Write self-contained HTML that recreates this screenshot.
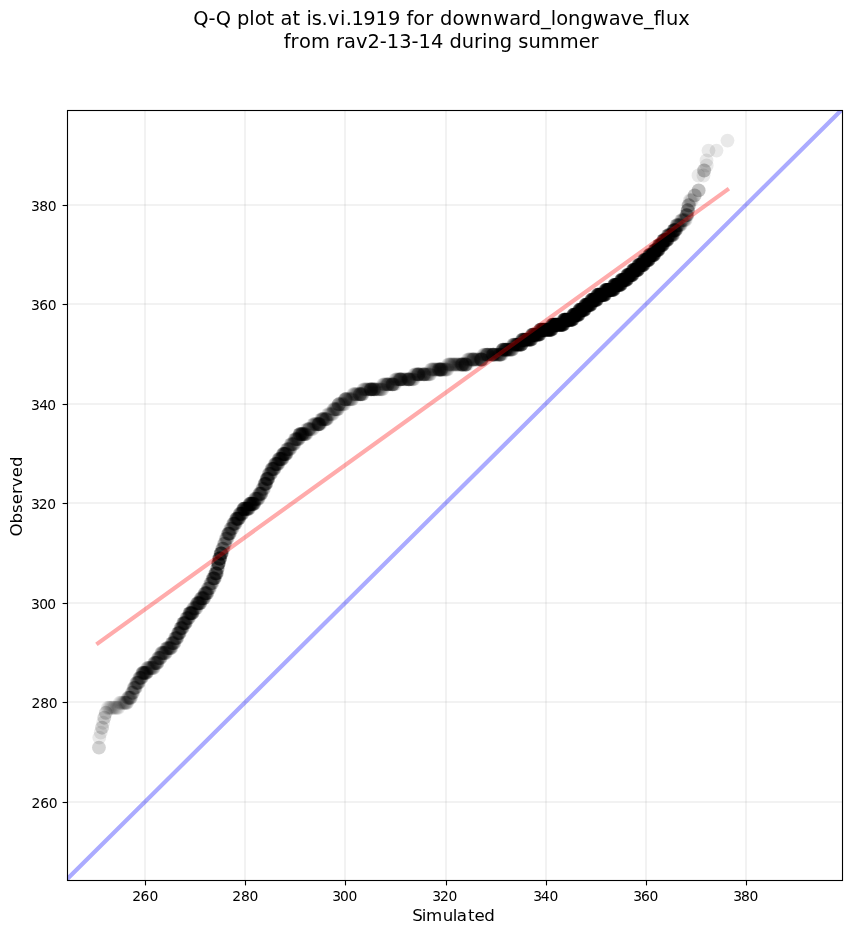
<!DOCTYPE html>
<html lang="en"><head><meta charset="utf-8"><title>Q-Q plot</title>
<style>html,body{margin:0;padding:0;background:#fff;overflow:hidden}svg{display:block}text{font-family:"DejaVu Sans","Liberation Sans",sans-serif;fill:#000}</style></head><body>
<svg width="851" height="934" viewBox="0 0 851 934">
<rect width="851" height="934" fill="#fff"/>
<defs><clipPath id="ax"><rect x="67.5" y="110.5" width="775" height="770"/></clipPath></defs>
<g clip-path="url(#ax)">
<g fill="#808080" fill-opacity="0.1">
<rect x="144.0" y="110.5" width="2" height="770"/>
<rect x="244.0" y="110.5" width="2" height="770"/>
<rect x="344.0" y="110.5" width="2" height="770"/>
<rect x="445.0" y="110.5" width="2" height="770"/>
<rect x="545.0" y="110.5" width="2" height="770"/>
<rect x="645.0" y="110.5" width="2" height="770"/>
<rect x="745.0" y="110.5" width="2" height="770"/>
<rect x="67.5" y="204.0" width="775" height="2"/>
<rect x="67.5" y="303.0" width="775" height="2"/>
<rect x="67.5" y="403.0" width="775" height="2"/>
<rect x="67.5" y="502.0" width="775" height="2"/>
<rect x="67.5" y="602.0" width="775" height="2"/>
<rect x="67.5" y="701.0" width="775" height="2"/>
<rect x="67.5" y="801.0" width="775" height="2"/>
</g>
<g fill="#000" fill-opacity="0.085">
<circle cx="98.9" cy="747.6" r="6.94"/><circle cx="99.0" cy="747.6" r="6.94"/><circle cx="99.3" cy="737.6" r="6.94"/><circle cx="100.7" cy="732.6" r="6.94"/><circle cx="102.0" cy="727.7" r="6.94"/><circle cx="102.1" cy="727.7" r="6.94"/><circle cx="103.2" cy="722.7" r="6.94"/><circle cx="104.2" cy="717.7" r="6.94"/><circle cx="104.4" cy="717.7" r="6.94"/><circle cx="105.7" cy="712.8" r="6.94"/><circle cx="105.9" cy="712.8" r="6.94"/><circle cx="107.8" cy="707.8" r="6.94"/><circle cx="109.2" cy="707.8" r="6.94"/><circle cx="110.5" cy="707.8" r="6.94"/><circle cx="111.8" cy="707.8" r="6.94"/><circle cx="113.1" cy="707.8" r="6.94"/><circle cx="114.4" cy="707.8" r="6.94"/><circle cx="115.8" cy="707.8" r="6.94"/><circle cx="117.1" cy="707.8" r="6.94"/><circle cx="118.4" cy="707.8" r="6.94"/><circle cx="119.7" cy="702.8" r="6.94"/><circle cx="120.9" cy="702.8" r="6.94"/><circle cx="122.2" cy="702.8" r="6.94"/><circle cx="123.3" cy="702.8" r="6.94"/><circle cx="124.2" cy="702.8" r="6.94"/><circle cx="124.9" cy="702.8" r="6.94"/><circle cx="125.5" cy="702.8" r="6.94"/><circle cx="126.1" cy="702.8" r="6.94"/><circle cx="126.7" cy="702.8" r="6.94"/><circle cx="127.2" cy="702.8" r="6.94"/><circle cx="127.7" cy="697.8" r="6.94"/><circle cx="128.2" cy="697.8" r="6.94"/><circle cx="128.6" cy="697.8" r="6.94"/><circle cx="129.1" cy="697.8" r="6.94"/><circle cx="129.5" cy="697.8" r="6.94"/><circle cx="129.9" cy="697.8" r="6.94"/><circle cx="130.3" cy="697.8" r="6.94"/><circle cx="130.7" cy="697.8" r="6.94"/><circle cx="131.1" cy="697.8" r="6.94"/><circle cx="131.6" cy="692.8" r="6.94"/><circle cx="132.0" cy="692.8" r="6.94"/><circle cx="132.4" cy="692.8" r="6.94"/><circle cx="132.8" cy="692.8" r="6.94"/><circle cx="133.2" cy="692.8" r="6.94"/><circle cx="133.6" cy="687.9" r="6.94"/><circle cx="134.0" cy="687.9" r="6.94"/><circle cx="134.3" cy="687.9" r="6.94"/><circle cx="134.7" cy="687.9" r="6.94"/><circle cx="135.1" cy="687.9" r="6.94"/><circle cx="135.4" cy="687.9" r="6.94"/><circle cx="135.8" cy="687.9" r="6.94"/><circle cx="136.1" cy="682.9" r="6.94"/><circle cx="136.5" cy="682.9" r="6.94"/><circle cx="136.8" cy="682.9" r="6.94"/><circle cx="137.1" cy="682.9" r="6.94"/><circle cx="137.5" cy="682.9" r="6.94"/><circle cx="137.8" cy="682.9" r="6.94"/><circle cx="138.1" cy="682.9" r="6.94"/><circle cx="138.5" cy="682.9" r="6.94"/><circle cx="138.8" cy="682.9" r="6.94"/><circle cx="139.1" cy="677.9" r="6.94"/><circle cx="139.5" cy="677.9" r="6.94"/><circle cx="139.8" cy="677.9" r="6.94"/><circle cx="140.2" cy="677.9" r="6.94"/><circle cx="140.5" cy="677.9" r="6.94"/><circle cx="140.8" cy="677.9" r="6.94"/><circle cx="141.2" cy="677.9" r="6.94"/><circle cx="141.5" cy="677.9" r="6.94"/><circle cx="141.8" cy="677.9" r="6.94"/><circle cx="142.2" cy="672.9" r="6.94"/><circle cx="142.4" cy="672.9" r="6.94"/><circle cx="142.7" cy="672.9" r="6.94"/><circle cx="143.0" cy="672.9" r="6.94"/><circle cx="143.2" cy="672.9" r="6.94"/><circle cx="143.5" cy="672.9" r="6.94"/><circle cx="143.7" cy="672.9" r="6.94"/><circle cx="144.0" cy="672.9" r="6.94"/><circle cx="144.3" cy="672.9" r="6.94"/><circle cx="144.5" cy="672.9" r="6.94"/><circle cx="144.8" cy="672.9" r="6.94"/><circle cx="145.0" cy="672.9" r="6.94"/><circle cx="145.3" cy="672.9" r="6.94"/><circle cx="145.6" cy="672.9" r="6.94"/><circle cx="145.8" cy="672.9" r="6.94"/><circle cx="146.1" cy="672.9" r="6.94"/><circle cx="146.3" cy="672.9" r="6.94"/><circle cx="146.6" cy="672.9" r="6.94"/><circle cx="146.8" cy="672.9" r="6.94"/><circle cx="147.2" cy="668.0" r="6.94"/><circle cx="147.7" cy="668.0" r="6.94"/><circle cx="148.2" cy="668.0" r="6.94"/><circle cx="148.7" cy="668.0" r="6.94"/><circle cx="149.2" cy="668.0" r="6.94"/><circle cx="149.7" cy="668.0" r="6.94"/><circle cx="150.2" cy="668.0" r="6.94"/><circle cx="150.7" cy="668.0" r="6.94"/><circle cx="151.2" cy="668.0" r="6.94"/><circle cx="151.7" cy="668.0" r="6.94"/><circle cx="152.2" cy="668.0" r="6.94"/><circle cx="152.7" cy="668.0" r="6.94"/><circle cx="153.2" cy="668.0" r="6.94"/><circle cx="153.7" cy="668.0" r="6.94"/><circle cx="154.1" cy="663.0" r="6.94"/><circle cx="154.4" cy="663.0" r="6.94"/><circle cx="154.7" cy="663.0" r="6.94"/><circle cx="155.1" cy="663.0" r="6.94"/><circle cx="155.4" cy="663.0" r="6.94"/><circle cx="155.7" cy="663.0" r="6.94"/><circle cx="156.0" cy="663.0" r="6.94"/><circle cx="156.4" cy="663.0" r="6.94"/><circle cx="156.7" cy="663.0" r="6.94"/><circle cx="157.0" cy="663.0" r="6.94"/><circle cx="157.3" cy="663.0" r="6.94"/><circle cx="157.6" cy="663.0" r="6.94"/><circle cx="158.0" cy="658.0" r="6.94"/><circle cx="158.3" cy="658.0" r="6.94"/><circle cx="158.7" cy="658.0" r="6.94"/><circle cx="159.0" cy="658.0" r="6.94"/><circle cx="159.4" cy="658.0" r="6.94"/><circle cx="159.8" cy="658.0" r="6.94"/><circle cx="160.1" cy="658.0" r="6.94"/><circle cx="160.5" cy="658.0" r="6.94"/><circle cx="160.8" cy="658.0" r="6.94"/><circle cx="161.2" cy="653.0" r="6.94"/><circle cx="161.6" cy="653.0" r="6.94"/><circle cx="162.0" cy="653.0" r="6.94"/><circle cx="162.4" cy="653.0" r="6.94"/><circle cx="162.8" cy="653.0" r="6.94"/><circle cx="163.2" cy="653.0" r="6.94"/><circle cx="163.6" cy="653.0" r="6.94"/><circle cx="164.0" cy="653.0" r="6.94"/><circle cx="164.4" cy="653.0" r="6.94"/><circle cx="164.8" cy="653.0" r="6.94"/><circle cx="165.2" cy="653.0" r="6.94"/><circle cx="165.6" cy="653.0" r="6.94"/><circle cx="166.0" cy="653.0" r="6.94"/><circle cx="166.4" cy="648.1" r="6.94"/><circle cx="166.8" cy="648.1" r="6.94"/><circle cx="167.1" cy="648.1" r="6.94"/><circle cx="167.5" cy="648.1" r="6.94"/><circle cx="167.8" cy="648.1" r="6.94"/><circle cx="168.2" cy="648.1" r="6.94"/><circle cx="168.5" cy="648.1" r="6.94"/><circle cx="168.9" cy="648.1" r="6.94"/><circle cx="169.2" cy="648.1" r="6.94"/><circle cx="169.6" cy="648.1" r="6.94"/><circle cx="169.9" cy="648.1" r="6.94"/><circle cx="170.3" cy="648.1" r="6.94"/><circle cx="170.6" cy="648.1" r="6.94"/><circle cx="171.0" cy="648.1" r="6.94"/><circle cx="171.3" cy="648.1" r="6.94"/><circle cx="171.7" cy="643.1" r="6.94"/><circle cx="172.0" cy="643.1" r="6.94"/><circle cx="172.3" cy="643.1" r="6.94"/><circle cx="172.6" cy="643.1" r="6.94"/><circle cx="172.9" cy="643.1" r="6.94"/><circle cx="173.2" cy="643.1" r="6.94"/><circle cx="173.5" cy="643.1" r="6.94"/><circle cx="173.9" cy="643.1" r="6.94"/><circle cx="174.2" cy="643.1" r="6.94"/><circle cx="174.5" cy="643.1" r="6.94"/><circle cx="174.8" cy="638.1" r="6.94"/><circle cx="175.1" cy="638.1" r="6.94"/><circle cx="175.4" cy="638.1" r="6.94"/><circle cx="175.7" cy="638.1" r="6.94"/><circle cx="176.0" cy="638.1" r="6.94"/><circle cx="176.3" cy="638.1" r="6.94"/><circle cx="176.5" cy="638.1" r="6.94"/><circle cx="176.8" cy="638.1" r="6.94"/><circle cx="177.1" cy="638.1" r="6.94"/><circle cx="177.4" cy="638.1" r="6.94"/><circle cx="177.7" cy="633.1" r="6.94"/><circle cx="178.0" cy="633.1" r="6.94"/><circle cx="178.2" cy="633.1" r="6.94"/><circle cx="178.5" cy="633.1" r="6.94"/><circle cx="178.7" cy="633.1" r="6.94"/><circle cx="178.9" cy="633.1" r="6.94"/><circle cx="179.2" cy="633.1" r="6.94"/><circle cx="179.4" cy="633.1" r="6.94"/><circle cx="179.7" cy="633.1" r="6.94"/><circle cx="179.9" cy="633.1" r="6.94"/><circle cx="180.2" cy="628.2" r="6.94"/><circle cx="180.5" cy="628.2" r="6.94"/><circle cx="180.8" cy="628.2" r="6.94"/><circle cx="181.0" cy="628.2" r="6.94"/><circle cx="181.3" cy="628.2" r="6.94"/><circle cx="181.6" cy="628.2" r="6.94"/><circle cx="181.9" cy="628.2" r="6.94"/><circle cx="182.1" cy="628.2" r="6.94"/><circle cx="182.4" cy="628.2" r="6.94"/><circle cx="182.7" cy="628.2" r="6.94"/><circle cx="182.9" cy="623.2" r="6.94"/><circle cx="183.2" cy="623.2" r="6.94"/><circle cx="183.4" cy="623.2" r="6.94"/><circle cx="183.6" cy="623.2" r="6.94"/><circle cx="183.8" cy="623.2" r="6.94"/><circle cx="184.1" cy="623.2" r="6.94"/><circle cx="184.3" cy="623.2" r="6.94"/><circle cx="184.5" cy="623.2" r="6.94"/><circle cx="184.7" cy="623.2" r="6.94"/><circle cx="185.0" cy="623.2" r="6.94"/><circle cx="185.2" cy="623.2" r="6.94"/><circle cx="185.4" cy="623.2" r="6.94"/><circle cx="185.6" cy="623.2" r="6.94"/><circle cx="185.9" cy="623.2" r="6.94"/><circle cx="186.2" cy="618.2" r="6.94"/><circle cx="186.5" cy="618.2" r="6.94"/><circle cx="186.9" cy="618.2" r="6.94"/><circle cx="187.2" cy="618.2" r="6.94"/><circle cx="187.6" cy="618.2" r="6.94"/><circle cx="187.9" cy="618.2" r="6.94"/><circle cx="188.3" cy="618.2" r="6.94"/><circle cx="188.6" cy="618.2" r="6.94"/><circle cx="189.0" cy="618.2" r="6.94"/><circle cx="189.2" cy="613.2" r="6.94"/><circle cx="189.4" cy="613.2" r="6.94"/><circle cx="189.6" cy="613.2" r="6.94"/><circle cx="189.8" cy="613.2" r="6.94"/><circle cx="190.0" cy="613.2" r="6.94"/><circle cx="190.2" cy="613.2" r="6.94"/><circle cx="190.4" cy="613.2" r="6.94"/><circle cx="190.6" cy="613.2" r="6.94"/><circle cx="190.8" cy="613.2" r="6.94"/><circle cx="191.0" cy="613.2" r="6.94"/><circle cx="191.2" cy="613.2" r="6.94"/><circle cx="191.4" cy="613.2" r="6.94"/><circle cx="191.6" cy="613.2" r="6.94"/><circle cx="191.8" cy="613.2" r="6.94"/><circle cx="192.0" cy="613.2" r="6.94"/><circle cx="192.2" cy="613.2" r="6.94"/><circle cx="192.4" cy="613.2" r="6.94"/><circle cx="192.6" cy="613.2" r="6.94"/><circle cx="192.7" cy="613.2" r="6.94"/><circle cx="193.1" cy="608.3" r="6.94"/><circle cx="193.5" cy="608.3" r="6.94"/><circle cx="193.9" cy="608.3" r="6.94"/><circle cx="194.3" cy="608.3" r="6.94"/><circle cx="194.8" cy="608.3" r="6.94"/><circle cx="195.2" cy="608.3" r="6.94"/><circle cx="195.6" cy="608.3" r="6.94"/><circle cx="196.1" cy="608.3" r="6.94"/><circle cx="196.5" cy="608.3" r="6.94"/><circle cx="196.8" cy="603.3" r="6.94"/><circle cx="197.1" cy="603.3" r="6.94"/><circle cx="197.3" cy="603.3" r="6.94"/><circle cx="197.5" cy="603.3" r="6.94"/><circle cx="197.8" cy="603.3" r="6.94"/><circle cx="198.0" cy="603.3" r="6.94"/><circle cx="198.3" cy="603.3" r="6.94"/><circle cx="198.5" cy="603.3" r="6.94"/><circle cx="198.7" cy="603.3" r="6.94"/><circle cx="199.0" cy="603.3" r="6.94"/><circle cx="199.2" cy="603.3" r="6.94"/><circle cx="199.5" cy="603.3" r="6.94"/><circle cx="199.7" cy="603.3" r="6.94"/><circle cx="199.9" cy="603.3" r="6.94"/><circle cx="200.2" cy="603.3" r="6.94"/><circle cx="200.4" cy="603.3" r="6.94"/><circle cx="200.7" cy="598.3" r="6.94"/><circle cx="201.0" cy="598.3" r="6.94"/><circle cx="201.3" cy="598.3" r="6.94"/><circle cx="201.6" cy="598.3" r="6.94"/><circle cx="201.9" cy="598.3" r="6.94"/><circle cx="202.2" cy="598.3" r="6.94"/><circle cx="202.5" cy="598.3" r="6.94"/><circle cx="202.8" cy="598.3" r="6.94"/><circle cx="203.1" cy="598.3" r="6.94"/><circle cx="203.4" cy="598.3" r="6.94"/><circle cx="203.7" cy="598.3" r="6.94"/><circle cx="203.9" cy="598.3" r="6.94"/><circle cx="204.2" cy="598.3" r="6.94"/><circle cx="204.5" cy="593.3" r="6.94"/><circle cx="204.8" cy="593.3" r="6.94"/><circle cx="205.0" cy="593.3" r="6.94"/><circle cx="205.2" cy="593.3" r="6.94"/><circle cx="205.5" cy="593.3" r="6.94"/><circle cx="205.7" cy="593.3" r="6.94"/><circle cx="206.0" cy="593.3" r="6.94"/><circle cx="206.2" cy="593.3" r="6.94"/><circle cx="206.4" cy="593.3" r="6.94"/><circle cx="206.7" cy="593.3" r="6.94"/><circle cx="206.9" cy="593.3" r="6.94"/><circle cx="207.2" cy="593.3" r="6.94"/><circle cx="207.4" cy="593.3" r="6.94"/><circle cx="207.7" cy="588.4" r="6.94"/><circle cx="208.1" cy="588.4" r="6.94"/><circle cx="208.4" cy="588.4" r="6.94"/><circle cx="208.8" cy="588.4" r="6.94"/><circle cx="209.1" cy="588.4" r="6.94"/><circle cx="209.5" cy="588.4" r="6.94"/><circle cx="209.9" cy="588.4" r="6.94"/><circle cx="210.2" cy="583.4" r="6.94"/><circle cx="210.6" cy="583.4" r="6.94"/><circle cx="210.9" cy="583.4" r="6.94"/><circle cx="211.3" cy="583.4" r="6.94"/><circle cx="211.6" cy="583.4" r="6.94"/><circle cx="212.0" cy="583.4" r="6.94"/><circle cx="212.4" cy="583.4" r="6.94"/><circle cx="212.6" cy="578.4" r="6.94"/><circle cx="212.9" cy="578.4" r="6.94"/><circle cx="213.1" cy="578.4" r="6.94"/><circle cx="213.3" cy="578.4" r="6.94"/><circle cx="213.5" cy="578.4" r="6.94"/><circle cx="213.7" cy="578.4" r="6.94"/><circle cx="213.9" cy="578.4" r="6.94"/><circle cx="214.1" cy="578.4" r="6.94"/><circle cx="214.3" cy="578.4" r="6.94"/><circle cx="214.5" cy="578.4" r="6.94"/><circle cx="214.7" cy="578.4" r="6.94"/><circle cx="214.9" cy="578.4" r="6.94"/><circle cx="215.1" cy="573.4" r="6.94"/><circle cx="215.3" cy="573.4" r="6.94"/><circle cx="215.5" cy="573.4" r="6.94"/><circle cx="215.7" cy="573.4" r="6.94"/><circle cx="215.9" cy="573.4" r="6.94"/><circle cx="216.0" cy="573.4" r="6.94"/><circle cx="216.2" cy="573.4" r="6.94"/><circle cx="216.4" cy="573.4" r="6.94"/><circle cx="216.6" cy="573.4" r="6.94"/><circle cx="216.8" cy="573.4" r="6.94"/><circle cx="217.0" cy="573.4" r="6.94"/><circle cx="217.1" cy="568.5" r="6.94"/><circle cx="217.3" cy="568.5" r="6.94"/><circle cx="217.5" cy="568.5" r="6.94"/><circle cx="217.7" cy="568.5" r="6.94"/><circle cx="217.9" cy="568.5" r="6.94"/><circle cx="218.0" cy="563.5" r="6.94"/><circle cx="218.1" cy="563.5" r="6.94"/><circle cx="218.2" cy="563.5" r="6.94"/><circle cx="218.3" cy="563.5" r="6.94"/><circle cx="218.4" cy="563.5" r="6.94"/><circle cx="218.5" cy="563.5" r="6.94"/><circle cx="218.6" cy="563.5" r="6.94"/><circle cx="218.7" cy="563.5" r="6.94"/><circle cx="218.8" cy="563.5" r="6.94"/><circle cx="218.9" cy="563.5" r="6.94"/><circle cx="219.0" cy="558.5" r="6.94"/><circle cx="219.2" cy="558.5" r="6.94"/><circle cx="219.3" cy="558.5" r="6.94"/><circle cx="219.4" cy="558.5" r="6.94"/><circle cx="219.6" cy="558.5" r="6.94"/><circle cx="219.7" cy="558.5" r="6.94"/><circle cx="219.8" cy="558.5" r="6.94"/><circle cx="219.9" cy="558.5" r="6.94"/><circle cx="220.1" cy="558.5" r="6.94"/><circle cx="220.2" cy="558.5" r="6.94"/><circle cx="220.3" cy="558.5" r="6.94"/><circle cx="220.5" cy="553.5" r="6.94"/><circle cx="220.6" cy="553.5" r="6.94"/><circle cx="220.8" cy="553.5" r="6.94"/><circle cx="220.9" cy="553.5" r="6.94"/><circle cx="221.0" cy="553.5" r="6.94"/><circle cx="221.2" cy="553.5" r="6.94"/><circle cx="221.3" cy="553.5" r="6.94"/><circle cx="221.5" cy="553.5" r="6.94"/><circle cx="221.6" cy="553.5" r="6.94"/><circle cx="221.7" cy="553.5" r="6.94"/><circle cx="221.9" cy="553.5" r="6.94"/><circle cx="222.1" cy="548.6" r="6.94"/><circle cx="222.4" cy="548.6" r="6.94"/><circle cx="222.7" cy="548.6" r="6.94"/><circle cx="223.0" cy="548.6" r="6.94"/><circle cx="223.3" cy="548.6" r="6.94"/><circle cx="223.6" cy="548.6" r="6.94"/><circle cx="223.9" cy="543.6" r="6.94"/><circle cx="224.3" cy="543.6" r="6.94"/><circle cx="224.6" cy="543.6" r="6.94"/><circle cx="225.0" cy="543.6" r="6.94"/><circle cx="225.3" cy="543.6" r="6.94"/><circle cx="225.7" cy="538.6" r="6.94"/><circle cx="226.1" cy="538.6" r="6.94"/><circle cx="226.5" cy="538.6" r="6.94"/><circle cx="226.8" cy="538.6" r="6.94"/><circle cx="227.2" cy="538.6" r="6.94"/><circle cx="227.6" cy="538.6" r="6.94"/><circle cx="227.9" cy="533.6" r="6.94"/><circle cx="228.1" cy="533.6" r="6.94"/><circle cx="228.3" cy="533.6" r="6.94"/><circle cx="228.5" cy="533.6" r="6.94"/><circle cx="228.7" cy="533.6" r="6.94"/><circle cx="228.9" cy="533.6" r="6.94"/><circle cx="229.1" cy="533.6" r="6.94"/><circle cx="229.4" cy="533.6" r="6.94"/><circle cx="229.6" cy="533.6" r="6.94"/><circle cx="229.8" cy="533.6" r="6.94"/><circle cx="230.0" cy="533.6" r="6.94"/><circle cx="230.3" cy="528.7" r="6.94"/><circle cx="230.7" cy="528.7" r="6.94"/><circle cx="231.1" cy="528.7" r="6.94"/><circle cx="231.5" cy="528.7" r="6.94"/><circle cx="231.9" cy="528.7" r="6.94"/><circle cx="232.3" cy="528.7" r="6.94"/><circle cx="232.7" cy="528.7" r="6.94"/><circle cx="233.0" cy="523.7" r="6.94"/><circle cx="233.3" cy="523.7" r="6.94"/><circle cx="233.6" cy="523.7" r="6.94"/><circle cx="233.8" cy="523.7" r="6.94"/><circle cx="234.1" cy="523.7" r="6.94"/><circle cx="234.4" cy="523.7" r="6.94"/><circle cx="234.7" cy="523.7" r="6.94"/><circle cx="234.9" cy="523.7" r="6.94"/><circle cx="235.2" cy="523.7" r="6.94"/><circle cx="235.5" cy="523.7" r="6.94"/><circle cx="235.8" cy="523.7" r="6.94"/><circle cx="236.0" cy="518.7" r="6.94"/><circle cx="236.2" cy="518.7" r="6.94"/><circle cx="236.4" cy="518.7" r="6.94"/><circle cx="236.6" cy="518.7" r="6.94"/><circle cx="236.8" cy="518.7" r="6.94"/><circle cx="237.0" cy="518.7" r="6.94"/><circle cx="237.2" cy="518.7" r="6.94"/><circle cx="237.4" cy="518.7" r="6.94"/><circle cx="237.6" cy="518.7" r="6.94"/><circle cx="237.8" cy="518.7" r="6.94"/><circle cx="238.0" cy="518.7" r="6.94"/><circle cx="238.2" cy="518.7" r="6.94"/><circle cx="238.4" cy="518.7" r="6.94"/><circle cx="238.6" cy="518.7" r="6.94"/><circle cx="238.8" cy="518.7" r="6.94"/><circle cx="239.0" cy="518.7" r="6.94"/><circle cx="239.1" cy="518.7" r="6.94"/><circle cx="239.4" cy="513.8" r="6.94"/><circle cx="239.6" cy="513.8" r="6.94"/><circle cx="239.9" cy="513.8" r="6.94"/><circle cx="240.1" cy="513.8" r="6.94"/><circle cx="240.4" cy="513.8" r="6.94"/><circle cx="240.7" cy="513.8" r="6.94"/><circle cx="240.9" cy="513.8" r="6.94"/><circle cx="241.2" cy="513.8" r="6.94"/><circle cx="241.4" cy="513.8" r="6.94"/><circle cx="241.7" cy="513.8" r="6.94"/><circle cx="241.9" cy="513.8" r="6.94"/><circle cx="242.2" cy="513.8" r="6.94"/><circle cx="242.4" cy="513.8" r="6.94"/><circle cx="242.7" cy="513.8" r="6.94"/><circle cx="243.0" cy="508.8" r="6.94"/><circle cx="243.3" cy="508.8" r="6.94"/><circle cx="243.6" cy="508.8" r="6.94"/><circle cx="243.9" cy="508.8" r="6.94"/><circle cx="244.2" cy="508.8" r="6.94"/><circle cx="244.5" cy="508.8" r="6.94"/><circle cx="244.8" cy="508.8" r="6.94"/><circle cx="245.1" cy="508.8" r="6.94"/><circle cx="245.4" cy="508.8" r="6.94"/><circle cx="245.8" cy="508.8" r="6.94"/><circle cx="246.1" cy="508.8" r="6.94"/><circle cx="246.4" cy="508.8" r="6.94"/><circle cx="246.7" cy="508.8" r="6.94"/><circle cx="247.0" cy="508.8" r="6.94"/><circle cx="247.3" cy="508.8" r="6.94"/><circle cx="247.6" cy="508.8" r="6.94"/><circle cx="247.9" cy="508.8" r="6.94"/><circle cx="248.2" cy="508.8" r="6.94"/><circle cx="248.5" cy="508.8" r="6.94"/><circle cx="248.8" cy="508.8" r="6.94"/><circle cx="249.1" cy="508.8" r="6.94"/><circle cx="244.3" cy="508.8" r="6.94"/><circle cx="243.9" cy="508.8" r="6.94"/><circle cx="243.4" cy="508.8" r="6.94"/><circle cx="244.1" cy="508.8" r="6.94"/><circle cx="247.2" cy="508.8" r="6.94"/><circle cx="247.9" cy="508.8" r="6.94"/><circle cx="247.0" cy="508.8" r="6.94"/><circle cx="245.4" cy="508.8" r="6.94"/><circle cx="249.4" cy="503.8" r="6.94"/><circle cx="249.6" cy="503.8" r="6.94"/><circle cx="249.8" cy="503.8" r="6.94"/><circle cx="250.0" cy="503.8" r="6.94"/><circle cx="250.2" cy="503.8" r="6.94"/><circle cx="250.4" cy="503.8" r="6.94"/><circle cx="250.5" cy="503.8" r="6.94"/><circle cx="250.7" cy="503.8" r="6.94"/><circle cx="250.9" cy="503.8" r="6.94"/><circle cx="251.1" cy="503.8" r="6.94"/><circle cx="251.3" cy="503.8" r="6.94"/><circle cx="251.5" cy="503.8" r="6.94"/><circle cx="251.7" cy="503.8" r="6.94"/><circle cx="251.9" cy="503.8" r="6.94"/><circle cx="252.1" cy="503.8" r="6.94"/><circle cx="252.3" cy="503.8" r="6.94"/><circle cx="252.5" cy="503.8" r="6.94"/><circle cx="252.7" cy="503.8" r="6.94"/><circle cx="252.9" cy="503.8" r="6.94"/><circle cx="253.0" cy="503.8" r="6.94"/><circle cx="253.2" cy="503.8" r="6.94"/><circle cx="253.4" cy="503.8" r="6.94"/><circle cx="253.6" cy="503.8" r="6.94"/><circle cx="253.8" cy="503.8" r="6.94"/><circle cx="254.0" cy="503.8" r="6.94"/><circle cx="254.2" cy="503.8" r="6.94"/><circle cx="254.4" cy="503.8" r="6.94"/><circle cx="254.7" cy="498.8" r="6.94"/><circle cx="255.0" cy="498.8" r="6.94"/><circle cx="255.4" cy="498.8" r="6.94"/><circle cx="255.8" cy="498.8" r="6.94"/><circle cx="256.1" cy="498.8" r="6.94"/><circle cx="256.5" cy="498.8" r="6.94"/><circle cx="256.9" cy="498.8" r="6.94"/><circle cx="257.2" cy="498.8" r="6.94"/><circle cx="257.6" cy="498.8" r="6.94"/><circle cx="258.0" cy="498.8" r="6.94"/><circle cx="258.3" cy="498.8" r="6.94"/><circle cx="258.7" cy="498.8" r="6.94"/><circle cx="259.0" cy="493.8" r="6.94"/><circle cx="259.2" cy="493.8" r="6.94"/><circle cx="259.5" cy="493.8" r="6.94"/><circle cx="259.7" cy="493.8" r="6.94"/><circle cx="260.0" cy="493.8" r="6.94"/><circle cx="260.2" cy="493.8" r="6.94"/><circle cx="260.4" cy="493.8" r="6.94"/><circle cx="260.7" cy="493.8" r="6.94"/><circle cx="260.9" cy="493.8" r="6.94"/><circle cx="261.2" cy="493.8" r="6.94"/><circle cx="261.4" cy="493.8" r="6.94"/><circle cx="261.6" cy="493.8" r="6.94"/><circle cx="262.0" cy="488.9" r="6.94"/><circle cx="262.4" cy="488.9" r="6.94"/><circle cx="262.8" cy="488.9" r="6.94"/><circle cx="263.2" cy="488.9" r="6.94"/><circle cx="263.6" cy="488.9" r="6.94"/><circle cx="264.0" cy="488.9" r="6.94"/><circle cx="264.3" cy="483.9" r="6.94"/><circle cx="264.5" cy="483.9" r="6.94"/><circle cx="264.7" cy="483.9" r="6.94"/><circle cx="264.9" cy="483.9" r="6.94"/><circle cx="265.0" cy="483.9" r="6.94"/><circle cx="265.2" cy="483.9" r="6.94"/><circle cx="265.4" cy="483.9" r="6.94"/><circle cx="265.6" cy="483.9" r="6.94"/><circle cx="265.8" cy="483.9" r="6.94"/><circle cx="265.9" cy="483.9" r="6.94"/><circle cx="266.1" cy="483.9" r="6.94"/><circle cx="266.3" cy="483.9" r="6.94"/><circle cx="266.5" cy="478.9" r="6.94"/><circle cx="266.6" cy="478.9" r="6.94"/><circle cx="266.8" cy="478.9" r="6.94"/><circle cx="267.0" cy="478.9" r="6.94"/><circle cx="267.1" cy="478.9" r="6.94"/><circle cx="267.3" cy="478.9" r="6.94"/><circle cx="267.5" cy="478.9" r="6.94"/><circle cx="267.7" cy="478.9" r="6.94"/><circle cx="267.8" cy="478.9" r="6.94"/><circle cx="268.0" cy="478.9" r="6.94"/><circle cx="268.2" cy="478.9" r="6.94"/><circle cx="268.3" cy="478.9" r="6.94"/><circle cx="268.6" cy="473.9" r="6.94"/><circle cx="268.9" cy="473.9" r="6.94"/><circle cx="269.2" cy="473.9" r="6.94"/><circle cx="269.5" cy="473.9" r="6.94"/><circle cx="269.9" cy="473.9" r="6.94"/><circle cx="270.2" cy="473.9" r="6.94"/><circle cx="270.5" cy="473.9" r="6.94"/><circle cx="270.8" cy="473.9" r="6.94"/><circle cx="271.1" cy="473.9" r="6.94"/><circle cx="271.4" cy="469.0" r="6.94"/><circle cx="271.7" cy="469.0" r="6.94"/><circle cx="271.9" cy="469.0" r="6.94"/><circle cx="272.2" cy="469.0" r="6.94"/><circle cx="272.4" cy="469.0" r="6.94"/><circle cx="272.7" cy="469.0" r="6.94"/><circle cx="273.0" cy="469.0" r="6.94"/><circle cx="273.2" cy="469.0" r="6.94"/><circle cx="273.5" cy="469.0" r="6.94"/><circle cx="273.7" cy="469.0" r="6.94"/><circle cx="274.0" cy="469.0" r="6.94"/><circle cx="274.2" cy="469.0" r="6.94"/><circle cx="274.5" cy="469.0" r="6.94"/><circle cx="274.8" cy="464.0" r="6.94"/><circle cx="275.0" cy="464.0" r="6.94"/><circle cx="275.3" cy="464.0" r="6.94"/><circle cx="275.6" cy="464.0" r="6.94"/><circle cx="275.8" cy="464.0" r="6.94"/><circle cx="276.1" cy="464.0" r="6.94"/><circle cx="276.4" cy="464.0" r="6.94"/><circle cx="276.6" cy="464.0" r="6.94"/><circle cx="276.9" cy="464.0" r="6.94"/><circle cx="277.2" cy="464.0" r="6.94"/><circle cx="277.5" cy="464.0" r="6.94"/><circle cx="277.7" cy="464.0" r="6.94"/><circle cx="278.0" cy="464.0" r="6.94"/><circle cx="278.3" cy="464.0" r="6.94"/><circle cx="278.6" cy="459.0" r="6.94"/><circle cx="278.8" cy="459.0" r="6.94"/><circle cx="279.1" cy="459.0" r="6.94"/><circle cx="279.3" cy="459.0" r="6.94"/><circle cx="279.6" cy="459.0" r="6.94"/><circle cx="279.9" cy="459.0" r="6.94"/><circle cx="280.1" cy="459.0" r="6.94"/><circle cx="280.4" cy="459.0" r="6.94"/><circle cx="280.7" cy="459.0" r="6.94"/><circle cx="280.9" cy="459.0" r="6.94"/><circle cx="281.2" cy="459.0" r="6.94"/><circle cx="281.5" cy="459.0" r="6.94"/><circle cx="281.7" cy="459.0" r="6.94"/><circle cx="282.0" cy="459.0" r="6.94"/><circle cx="282.3" cy="459.0" r="6.94"/><circle cx="282.5" cy="459.0" r="6.94"/><circle cx="282.8" cy="454.0" r="6.94"/><circle cx="283.0" cy="454.0" r="6.94"/><circle cx="283.2" cy="454.0" r="6.94"/><circle cx="283.4" cy="454.0" r="6.94"/><circle cx="283.6" cy="454.0" r="6.94"/><circle cx="283.9" cy="454.0" r="6.94"/><circle cx="284.1" cy="454.0" r="6.94"/><circle cx="284.3" cy="454.0" r="6.94"/><circle cx="284.5" cy="454.0" r="6.94"/><circle cx="284.7" cy="454.0" r="6.94"/><circle cx="285.0" cy="454.0" r="6.94"/><circle cx="285.2" cy="454.0" r="6.94"/><circle cx="285.4" cy="454.0" r="6.94"/><circle cx="285.6" cy="454.0" r="6.94"/><circle cx="285.8" cy="454.0" r="6.94"/><circle cx="286.1" cy="454.0" r="6.94"/><circle cx="286.3" cy="454.0" r="6.94"/><circle cx="286.5" cy="454.0" r="6.94"/><circle cx="286.8" cy="449.1" r="6.94"/><circle cx="287.2" cy="449.1" r="6.94"/><circle cx="287.6" cy="449.1" r="6.94"/><circle cx="288.0" cy="449.1" r="6.94"/><circle cx="288.3" cy="449.1" r="6.94"/><circle cx="288.7" cy="449.1" r="6.94"/><circle cx="289.1" cy="449.1" r="6.94"/><circle cx="289.5" cy="449.1" r="6.94"/><circle cx="289.9" cy="449.1" r="6.94"/><circle cx="290.3" cy="449.1" r="6.94"/><circle cx="290.7" cy="444.1" r="6.94"/><circle cx="291.1" cy="444.1" r="6.94"/><circle cx="291.5" cy="444.1" r="6.94"/><circle cx="291.9" cy="444.1" r="6.94"/><circle cx="292.4" cy="444.1" r="6.94"/><circle cx="292.8" cy="444.1" r="6.94"/><circle cx="293.2" cy="444.1" r="6.94"/><circle cx="293.6" cy="444.1" r="6.94"/><circle cx="294.0" cy="444.1" r="6.94"/><circle cx="294.4" cy="444.1" r="6.94"/><circle cx="294.8" cy="439.1" r="6.94"/><circle cx="295.2" cy="439.1" r="6.94"/><circle cx="295.5" cy="439.1" r="6.94"/><circle cx="295.9" cy="439.1" r="6.94"/><circle cx="296.2" cy="439.1" r="6.94"/><circle cx="296.5" cy="439.1" r="6.94"/><circle cx="296.9" cy="439.1" r="6.94"/><circle cx="297.2" cy="439.1" r="6.94"/><circle cx="297.6" cy="439.1" r="6.94"/><circle cx="297.9" cy="439.1" r="6.94"/><circle cx="298.3" cy="439.1" r="6.94"/><circle cx="298.6" cy="439.1" r="6.94"/><circle cx="299.0" cy="439.1" r="6.94"/><circle cx="299.3" cy="434.1" r="6.94"/><circle cx="299.7" cy="434.1" r="6.94"/><circle cx="300.1" cy="434.1" r="6.94"/><circle cx="300.4" cy="434.1" r="6.94"/><circle cx="300.8" cy="434.1" r="6.94"/><circle cx="301.1" cy="434.1" r="6.94"/><circle cx="301.5" cy="434.1" r="6.94"/><circle cx="301.9" cy="434.1" r="6.94"/><circle cx="302.2" cy="434.1" r="6.94"/><circle cx="302.6" cy="434.1" r="6.94"/><circle cx="303.0" cy="434.1" r="6.94"/><circle cx="303.4" cy="434.1" r="6.94"/><circle cx="303.7" cy="434.1" r="6.94"/><circle cx="304.1" cy="434.1" r="6.94"/><circle cx="304.5" cy="434.1" r="6.94"/><circle cx="304.9" cy="434.1" r="6.94"/><circle cx="305.2" cy="434.1" r="6.94"/><circle cx="305.6" cy="434.1" r="6.94"/><circle cx="306.0" cy="434.1" r="6.94"/><circle cx="306.4" cy="434.1" r="6.94"/><circle cx="301.7" cy="434.1" r="6.94"/><circle cx="302.3" cy="434.1" r="6.94"/><circle cx="302.4" cy="434.1" r="6.94"/><circle cx="302.2" cy="434.1" r="6.94"/><circle cx="300.2" cy="434.1" r="6.94"/><circle cx="299.8" cy="434.1" r="6.94"/><circle cx="299.6" cy="434.1" r="6.94"/><circle cx="304.7" cy="434.1" r="6.94"/><circle cx="306.9" cy="429.2" r="6.94"/><circle cx="307.6" cy="429.2" r="6.94"/><circle cx="308.4" cy="429.2" r="6.94"/><circle cx="309.1" cy="429.2" r="6.94"/><circle cx="309.8" cy="429.2" r="6.94"/><circle cx="310.6" cy="429.2" r="6.94"/><circle cx="311.3" cy="429.2" r="6.94"/><circle cx="312.1" cy="429.2" r="6.94"/><circle cx="312.9" cy="429.2" r="6.94"/><circle cx="309.1" cy="429.2" r="6.94"/><circle cx="309.2" cy="429.2" r="6.94"/><circle cx="308.6" cy="429.2" r="6.94"/><circle cx="313.5" cy="424.2" r="6.94"/><circle cx="314.0" cy="424.2" r="6.94"/><circle cx="314.5" cy="424.2" r="6.94"/><circle cx="315.0" cy="424.2" r="6.94"/><circle cx="315.5" cy="424.2" r="6.94"/><circle cx="316.0" cy="424.2" r="6.94"/><circle cx="316.5" cy="424.2" r="6.94"/><circle cx="317.0" cy="424.2" r="6.94"/><circle cx="317.5" cy="424.2" r="6.94"/><circle cx="318.0" cy="424.2" r="6.94"/><circle cx="318.5" cy="424.2" r="6.94"/><circle cx="319.0" cy="424.2" r="6.94"/><circle cx="319.5" cy="424.2" r="6.94"/><circle cx="320.0" cy="424.2" r="6.94"/><circle cx="320.6" cy="424.2" r="6.94"/><circle cx="318.5" cy="424.2" r="6.94"/><circle cx="318.4" cy="424.2" r="6.94"/><circle cx="319.2" cy="424.2" r="6.94"/><circle cx="318.6" cy="424.2" r="6.94"/><circle cx="319.2" cy="424.2" r="6.94"/><circle cx="318.9" cy="424.2" r="6.94"/><circle cx="321.1" cy="419.2" r="6.94"/><circle cx="321.6" cy="419.2" r="6.94"/><circle cx="322.2" cy="419.2" r="6.94"/><circle cx="322.7" cy="419.2" r="6.94"/><circle cx="323.3" cy="419.2" r="6.94"/><circle cx="323.9" cy="419.2" r="6.94"/><circle cx="324.4" cy="419.2" r="6.94"/><circle cx="325.0" cy="419.2" r="6.94"/><circle cx="325.6" cy="419.2" r="6.94"/><circle cx="326.1" cy="419.2" r="6.94"/><circle cx="326.7" cy="419.2" r="6.94"/><circle cx="327.3" cy="419.2" r="6.94"/><circle cx="325.4" cy="419.2" r="6.94"/><circle cx="325.7" cy="419.2" r="6.94"/><circle cx="326.4" cy="419.2" r="6.94"/><circle cx="323.0" cy="419.2" r="6.94"/><circle cx="322.6" cy="419.2" r="6.94"/><circle cx="328.0" cy="414.2" r="6.94"/><circle cx="328.8" cy="414.2" r="6.94"/><circle cx="329.6" cy="414.2" r="6.94"/><circle cx="330.4" cy="414.2" r="6.94"/><circle cx="331.2" cy="414.2" r="6.94"/><circle cx="332.0" cy="414.2" r="6.94"/><circle cx="332.8" cy="414.2" r="6.94"/><circle cx="333.5" cy="409.3" r="6.94"/><circle cx="333.9" cy="409.3" r="6.94"/><circle cx="334.4" cy="409.3" r="6.94"/><circle cx="334.8" cy="409.3" r="6.94"/><circle cx="335.3" cy="409.3" r="6.94"/><circle cx="335.7" cy="409.3" r="6.94"/><circle cx="336.2" cy="409.3" r="6.94"/><circle cx="336.6" cy="409.3" r="6.94"/><circle cx="337.1" cy="409.3" r="6.94"/><circle cx="337.5" cy="409.3" r="6.94"/><circle cx="338.0" cy="409.3" r="6.94"/><circle cx="338.6" cy="404.3" r="6.94"/><circle cx="339.4" cy="404.3" r="6.94"/><circle cx="340.2" cy="404.3" r="6.94"/><circle cx="341.0" cy="404.3" r="6.94"/><circle cx="341.8" cy="404.3" r="6.94"/><circle cx="342.6" cy="404.3" r="6.94"/><circle cx="343.4" cy="404.3" r="6.94"/><circle cx="344.3" cy="404.3" r="6.94"/><circle cx="338.8" cy="404.3" r="6.94"/><circle cx="338.5" cy="404.3" r="6.94"/><circle cx="338.9" cy="404.3" r="6.94"/><circle cx="345.0" cy="399.3" r="6.94"/><circle cx="345.7" cy="399.3" r="6.94"/><circle cx="346.4" cy="399.3" r="6.94"/><circle cx="347.0" cy="399.3" r="6.94"/><circle cx="347.7" cy="399.3" r="6.94"/><circle cx="348.4" cy="399.3" r="6.94"/><circle cx="349.1" cy="399.3" r="6.94"/><circle cx="349.7" cy="399.3" r="6.94"/><circle cx="350.4" cy="399.3" r="6.94"/><circle cx="351.1" cy="399.3" r="6.94"/><circle cx="351.8" cy="399.3" r="6.94"/><circle cx="352.4" cy="399.3" r="6.94"/><circle cx="345.7" cy="399.3" r="6.94"/><circle cx="345.4" cy="399.3" r="6.94"/><circle cx="345.8" cy="399.3" r="6.94"/><circle cx="344.8" cy="399.3" r="6.94"/><circle cx="353.1" cy="394.3" r="6.94"/><circle cx="353.8" cy="394.3" r="6.94"/><circle cx="354.5" cy="394.3" r="6.94"/><circle cx="355.2" cy="394.3" r="6.94"/><circle cx="355.9" cy="394.3" r="6.94"/><circle cx="356.6" cy="394.3" r="6.94"/><circle cx="357.3" cy="394.3" r="6.94"/><circle cx="358.0" cy="394.3" r="6.94"/><circle cx="358.7" cy="394.3" r="6.94"/><circle cx="359.4" cy="394.3" r="6.94"/><circle cx="360.1" cy="394.3" r="6.94"/><circle cx="360.8" cy="394.3" r="6.94"/><circle cx="361.5" cy="394.3" r="6.94"/><circle cx="362.2" cy="394.3" r="6.94"/><circle cx="362.8" cy="394.3" r="6.94"/><circle cx="359.9" cy="394.3" r="6.94"/><circle cx="360.2" cy="394.3" r="6.94"/><circle cx="359.9" cy="394.3" r="6.94"/><circle cx="360.3" cy="394.3" r="6.94"/><circle cx="362.2" cy="394.3" r="6.94"/><circle cx="361.5" cy="394.3" r="6.94"/><circle cx="363.5" cy="389.4" r="6.94"/><circle cx="364.2" cy="389.4" r="6.94"/><circle cx="365.0" cy="389.4" r="6.94"/><circle cx="365.7" cy="389.4" r="6.94"/><circle cx="366.4" cy="389.4" r="6.94"/><circle cx="367.1" cy="389.4" r="6.94"/><circle cx="367.8" cy="389.4" r="6.94"/><circle cx="368.5" cy="389.4" r="6.94"/><circle cx="369.2" cy="389.4" r="6.94"/><circle cx="369.9" cy="389.4" r="6.94"/><circle cx="370.6" cy="389.4" r="6.94"/><circle cx="371.3" cy="389.4" r="6.94"/><circle cx="372.0" cy="389.4" r="6.94"/><circle cx="372.7" cy="389.4" r="6.94"/><circle cx="373.4" cy="389.4" r="6.94"/><circle cx="374.1" cy="389.4" r="6.94"/><circle cx="374.8" cy="389.4" r="6.94"/><circle cx="375.5" cy="389.4" r="6.94"/><circle cx="376.2" cy="389.4" r="6.94"/><circle cx="376.9" cy="389.4" r="6.94"/><circle cx="377.6" cy="389.4" r="6.94"/><circle cx="378.3" cy="389.4" r="6.94"/><circle cx="379.0" cy="389.4" r="6.94"/><circle cx="379.7" cy="389.4" r="6.94"/><circle cx="380.4" cy="389.4" r="6.94"/><circle cx="381.1" cy="389.4" r="6.94"/><circle cx="381.9" cy="389.4" r="6.94"/><circle cx="382.6" cy="389.4" r="6.94"/><circle cx="370.7" cy="389.4" r="6.94"/><circle cx="371.2" cy="389.4" r="6.94"/><circle cx="370.7" cy="389.4" r="6.94"/><circle cx="371.0" cy="389.4" r="6.94"/><circle cx="374.4" cy="389.4" r="6.94"/><circle cx="373.5" cy="389.4" r="6.94"/><circle cx="373.7" cy="389.4" r="6.94"/><circle cx="374.1" cy="389.4" r="6.94"/><circle cx="371.4" cy="389.4" r="6.94"/><circle cx="372.0" cy="389.4" r="6.94"/><circle cx="371.3" cy="389.4" r="6.94"/><circle cx="383.2" cy="384.4" r="6.94"/><circle cx="383.9" cy="384.4" r="6.94"/><circle cx="384.6" cy="384.4" r="6.94"/><circle cx="385.3" cy="384.4" r="6.94"/><circle cx="386.0" cy="384.4" r="6.94"/><circle cx="386.7" cy="384.4" r="6.94"/><circle cx="387.3" cy="384.4" r="6.94"/><circle cx="388.0" cy="384.4" r="6.94"/><circle cx="388.7" cy="384.4" r="6.94"/><circle cx="389.4" cy="384.4" r="6.94"/><circle cx="390.1" cy="384.4" r="6.94"/><circle cx="390.8" cy="384.4" r="6.94"/><circle cx="391.4" cy="384.4" r="6.94"/><circle cx="392.1" cy="384.4" r="6.94"/><circle cx="392.8" cy="384.4" r="6.94"/><circle cx="393.5" cy="384.4" r="6.94"/><circle cx="394.2" cy="384.4" r="6.94"/><circle cx="394.9" cy="384.4" r="6.94"/><circle cx="392.3" cy="384.4" r="6.94"/><circle cx="392.9" cy="384.4" r="6.94"/><circle cx="392.7" cy="384.4" r="6.94"/><circle cx="392.5" cy="384.4" r="6.94"/><circle cx="387.1" cy="384.4" r="6.94"/><circle cx="388.0" cy="384.4" r="6.94"/><circle cx="388.0" cy="384.4" r="6.94"/><circle cx="395.5" cy="379.4" r="6.94"/><circle cx="396.2" cy="379.4" r="6.94"/><circle cx="396.9" cy="379.4" r="6.94"/><circle cx="397.6" cy="379.4" r="6.94"/><circle cx="398.3" cy="379.4" r="6.94"/><circle cx="399.0" cy="379.4" r="6.94"/><circle cx="399.7" cy="379.4" r="6.94"/><circle cx="400.4" cy="379.4" r="6.94"/><circle cx="401.1" cy="379.4" r="6.94"/><circle cx="401.8" cy="379.4" r="6.94"/><circle cx="402.5" cy="379.4" r="6.94"/><circle cx="403.2" cy="379.4" r="6.94"/><circle cx="404.0" cy="379.4" r="6.94"/><circle cx="404.7" cy="379.4" r="6.94"/><circle cx="405.4" cy="379.4" r="6.94"/><circle cx="406.1" cy="379.4" r="6.94"/><circle cx="406.8" cy="379.4" r="6.94"/><circle cx="407.5" cy="379.4" r="6.94"/><circle cx="408.2" cy="379.4" r="6.94"/><circle cx="408.9" cy="379.4" r="6.94"/><circle cx="409.6" cy="379.4" r="6.94"/><circle cx="410.3" cy="379.4" r="6.94"/><circle cx="411.0" cy="379.4" r="6.94"/><circle cx="411.7" cy="379.4" r="6.94"/><circle cx="412.4" cy="379.4" r="6.94"/><circle cx="413.1" cy="379.4" r="6.94"/><circle cx="413.8" cy="379.4" r="6.94"/><circle cx="400.2" cy="379.4" r="6.94"/><circle cx="400.1" cy="379.4" r="6.94"/><circle cx="399.4" cy="379.4" r="6.94"/><circle cx="401.0" cy="379.4" r="6.94"/><circle cx="400.9" cy="379.4" r="6.94"/><circle cx="400.6" cy="379.4" r="6.94"/><circle cx="408.4" cy="379.4" r="6.94"/><circle cx="408.9" cy="379.4" r="6.94"/><circle cx="409.4" cy="379.4" r="6.94"/><circle cx="409.2" cy="379.4" r="6.94"/><circle cx="408.5" cy="379.4" r="6.94"/><circle cx="414.5" cy="374.4" r="6.94"/><circle cx="415.1" cy="374.4" r="6.94"/><circle cx="415.8" cy="374.4" r="6.94"/><circle cx="416.5" cy="374.4" r="6.94"/><circle cx="417.2" cy="374.4" r="6.94"/><circle cx="417.9" cy="374.4" r="6.94"/><circle cx="418.6" cy="374.4" r="6.94"/><circle cx="419.3" cy="374.4" r="6.94"/><circle cx="419.9" cy="374.4" r="6.94"/><circle cx="420.6" cy="374.4" r="6.94"/><circle cx="421.3" cy="374.4" r="6.94"/><circle cx="422.0" cy="374.4" r="6.94"/><circle cx="422.7" cy="374.4" r="6.94"/><circle cx="423.4" cy="374.4" r="6.94"/><circle cx="424.1" cy="374.4" r="6.94"/><circle cx="424.8" cy="374.4" r="6.94"/><circle cx="425.4" cy="374.4" r="6.94"/><circle cx="426.1" cy="374.4" r="6.94"/><circle cx="426.8" cy="374.4" r="6.94"/><circle cx="427.5" cy="374.4" r="6.94"/><circle cx="428.2" cy="374.4" r="6.94"/><circle cx="428.9" cy="374.4" r="6.94"/><circle cx="429.6" cy="374.4" r="6.94"/><circle cx="430.2" cy="374.4" r="6.94"/><circle cx="418.5" cy="374.4" r="6.94"/><circle cx="418.4" cy="374.4" r="6.94"/><circle cx="418.3" cy="374.4" r="6.94"/><circle cx="418.1" cy="374.4" r="6.94"/><circle cx="417.4" cy="374.4" r="6.94"/><circle cx="424.0" cy="374.4" r="6.94"/><circle cx="423.7" cy="374.4" r="6.94"/><circle cx="424.5" cy="374.4" r="6.94"/><circle cx="424.0" cy="374.4" r="6.94"/><circle cx="431.0" cy="369.5" r="6.94"/><circle cx="431.7" cy="369.5" r="6.94"/><circle cx="432.4" cy="369.5" r="6.94"/><circle cx="433.1" cy="369.5" r="6.94"/><circle cx="433.8" cy="369.5" r="6.94"/><circle cx="434.5" cy="369.5" r="6.94"/><circle cx="435.3" cy="369.5" r="6.94"/><circle cx="436.0" cy="369.5" r="6.94"/><circle cx="436.7" cy="369.5" r="6.94"/><circle cx="437.4" cy="369.5" r="6.94"/><circle cx="438.1" cy="369.5" r="6.94"/><circle cx="438.8" cy="369.5" r="6.94"/><circle cx="439.6" cy="369.5" r="6.94"/><circle cx="440.3" cy="369.5" r="6.94"/><circle cx="441.0" cy="369.5" r="6.94"/><circle cx="441.7" cy="369.5" r="6.94"/><circle cx="442.4" cy="369.5" r="6.94"/><circle cx="443.1" cy="369.5" r="6.94"/><circle cx="443.9" cy="369.5" r="6.94"/><circle cx="444.6" cy="369.5" r="6.94"/><circle cx="445.3" cy="369.5" r="6.94"/><circle cx="446.0" cy="369.5" r="6.94"/><circle cx="446.7" cy="369.5" r="6.94"/><circle cx="447.5" cy="369.5" r="6.94"/><circle cx="439.0" cy="369.5" r="6.94"/><circle cx="439.8" cy="369.5" r="6.94"/><circle cx="439.3" cy="369.5" r="6.94"/><circle cx="438.9" cy="369.5" r="6.94"/><circle cx="439.7" cy="369.5" r="6.94"/><circle cx="440.9" cy="369.5" r="6.94"/><circle cx="441.5" cy="369.5" r="6.94"/><circle cx="440.7" cy="369.5" r="6.94"/><circle cx="440.9" cy="369.5" r="6.94"/><circle cx="441.6" cy="369.5" r="6.94"/><circle cx="448.2" cy="364.5" r="6.94"/><circle cx="448.9" cy="364.5" r="6.94"/><circle cx="449.6" cy="364.5" r="6.94"/><circle cx="450.3" cy="364.5" r="6.94"/><circle cx="451.0" cy="364.5" r="6.94"/><circle cx="451.7" cy="364.5" r="6.94"/><circle cx="452.4" cy="364.5" r="6.94"/><circle cx="453.1" cy="364.5" r="6.94"/><circle cx="453.8" cy="364.5" r="6.94"/><circle cx="454.5" cy="364.5" r="6.94"/><circle cx="455.2" cy="364.5" r="6.94"/><circle cx="455.9" cy="364.5" r="6.94"/><circle cx="456.6" cy="364.5" r="6.94"/><circle cx="457.3" cy="364.5" r="6.94"/><circle cx="458.1" cy="364.5" r="6.94"/><circle cx="458.8" cy="364.5" r="6.94"/><circle cx="459.5" cy="364.5" r="6.94"/><circle cx="460.2" cy="364.5" r="6.94"/><circle cx="460.9" cy="364.5" r="6.94"/><circle cx="461.6" cy="364.5" r="6.94"/><circle cx="462.3" cy="364.5" r="6.94"/><circle cx="463.0" cy="364.5" r="6.94"/><circle cx="463.7" cy="364.5" r="6.94"/><circle cx="464.4" cy="364.5" r="6.94"/><circle cx="465.1" cy="364.5" r="6.94"/><circle cx="465.8" cy="364.5" r="6.94"/><circle cx="466.5" cy="364.5" r="6.94"/><circle cx="467.2" cy="364.5" r="6.94"/><circle cx="465.5" cy="364.5" r="6.94"/><circle cx="465.8" cy="364.5" r="6.94"/><circle cx="465.5" cy="364.5" r="6.94"/><circle cx="465.2" cy="364.5" r="6.94"/><circle cx="465.6" cy="364.5" r="6.94"/><circle cx="463.0" cy="364.5" r="6.94"/><circle cx="463.1" cy="364.5" r="6.94"/><circle cx="462.0" cy="364.5" r="6.94"/><circle cx="462.1" cy="364.5" r="6.94"/><circle cx="461.6" cy="364.5" r="6.94"/><circle cx="462.3" cy="364.5" r="6.94"/><circle cx="467.9" cy="359.5" r="6.94"/><circle cx="468.7" cy="359.5" r="6.94"/><circle cx="469.4" cy="359.5" r="6.94"/><circle cx="470.1" cy="359.5" r="6.94"/><circle cx="470.8" cy="359.5" r="6.94"/><circle cx="471.5" cy="359.5" r="6.94"/><circle cx="472.2" cy="359.5" r="6.94"/><circle cx="472.9" cy="359.5" r="6.94"/><circle cx="473.6" cy="359.5" r="6.94"/><circle cx="474.3" cy="359.5" r="6.94"/><circle cx="475.0" cy="359.5" r="6.94"/><circle cx="475.8" cy="359.5" r="6.94"/><circle cx="476.5" cy="359.5" r="6.94"/><circle cx="477.2" cy="359.5" r="6.94"/><circle cx="477.9" cy="359.5" r="6.94"/><circle cx="478.6" cy="359.5" r="6.94"/><circle cx="479.3" cy="359.5" r="6.94"/><circle cx="480.0" cy="359.5" r="6.94"/><circle cx="480.7" cy="359.5" r="6.94"/><circle cx="481.4" cy="359.5" r="6.94"/><circle cx="482.1" cy="359.5" r="6.94"/><circle cx="482.9" cy="359.5" r="6.94"/><circle cx="481.4" cy="359.5" r="6.94"/><circle cx="481.1" cy="359.5" r="6.94"/><circle cx="481.2" cy="359.5" r="6.94"/><circle cx="481.4" cy="359.5" r="6.94"/><circle cx="481.3" cy="359.5" r="6.94"/><circle cx="481.8" cy="359.5" r="6.94"/><circle cx="473.7" cy="359.5" r="6.94"/><circle cx="473.0" cy="359.5" r="6.94"/><circle cx="473.4" cy="359.5" r="6.94"/><circle cx="483.6" cy="354.6" r="6.94"/><circle cx="484.3" cy="354.6" r="6.94"/><circle cx="485.0" cy="354.6" r="6.94"/><circle cx="485.7" cy="354.6" r="6.94"/><circle cx="486.4" cy="354.6" r="6.94"/><circle cx="487.0" cy="354.6" r="6.94"/><circle cx="487.7" cy="354.6" r="6.94"/><circle cx="488.4" cy="354.6" r="6.94"/><circle cx="489.0" cy="354.6" r="6.94"/><circle cx="489.7" cy="354.6" r="6.94"/><circle cx="490.3" cy="354.6" r="6.94"/><circle cx="490.9" cy="354.6" r="6.94"/><circle cx="491.5" cy="354.6" r="6.94"/><circle cx="492.1" cy="354.6" r="6.94"/><circle cx="492.7" cy="354.6" r="6.94"/><circle cx="493.2" cy="354.6" r="6.94"/><circle cx="493.8" cy="354.6" r="6.94"/><circle cx="494.3" cy="354.6" r="6.94"/><circle cx="494.9" cy="354.6" r="6.94"/><circle cx="495.4" cy="354.6" r="6.94"/><circle cx="496.0" cy="354.6" r="6.94"/><circle cx="496.5" cy="354.6" r="6.94"/><circle cx="497.0" cy="354.6" r="6.94"/><circle cx="497.5" cy="354.6" r="6.94"/><circle cx="498.0" cy="354.6" r="6.94"/><circle cx="498.5" cy="354.6" r="6.94"/><circle cx="499.0" cy="354.6" r="6.94"/><circle cx="499.5" cy="354.6" r="6.94"/><circle cx="500.0" cy="354.6" r="6.94"/><circle cx="500.5" cy="354.6" r="6.94"/><circle cx="500.9" cy="354.6" r="6.94"/><circle cx="501.4" cy="354.6" r="6.94"/><circle cx="501.9" cy="354.6" r="6.94"/><circle cx="487.2" cy="354.6" r="6.94"/><circle cx="486.6" cy="354.6" r="6.94"/><circle cx="487.7" cy="354.6" r="6.94"/><circle cx="487.6" cy="354.6" r="6.94"/><circle cx="492.9" cy="354.6" r="6.94"/><circle cx="493.3" cy="354.6" r="6.94"/><circle cx="493.8" cy="354.6" r="6.94"/><circle cx="493.4" cy="354.6" r="6.94"/><circle cx="493.1" cy="354.6" r="6.94"/><circle cx="493.2" cy="354.6" r="6.94"/><circle cx="500.0" cy="354.6" r="6.94"/><circle cx="500.1" cy="354.6" r="6.94"/><circle cx="499.6" cy="354.6" r="6.94"/><circle cx="502.3" cy="349.6" r="6.94"/><circle cx="502.8" cy="349.6" r="6.94"/><circle cx="503.2" cy="349.6" r="6.94"/><circle cx="503.7" cy="349.6" r="6.94"/><circle cx="504.1" cy="349.6" r="6.94"/><circle cx="504.5" cy="349.6" r="6.94"/><circle cx="505.0" cy="349.6" r="6.94"/><circle cx="505.4" cy="349.6" r="6.94"/><circle cx="505.8" cy="349.6" r="6.94"/><circle cx="506.2" cy="349.6" r="6.94"/><circle cx="506.6" cy="349.6" r="6.94"/><circle cx="507.0" cy="349.6" r="6.94"/><circle cx="507.4" cy="349.6" r="6.94"/><circle cx="507.8" cy="349.6" r="6.94"/><circle cx="508.2" cy="349.6" r="6.94"/><circle cx="508.6" cy="349.6" r="6.94"/><circle cx="509.0" cy="349.6" r="6.94"/><circle cx="509.4" cy="349.6" r="6.94"/><circle cx="509.7" cy="349.6" r="6.94"/><circle cx="510.1" cy="349.6" r="6.94"/><circle cx="510.5" cy="349.6" r="6.94"/><circle cx="510.8" cy="349.6" r="6.94"/><circle cx="511.2" cy="349.6" r="6.94"/><circle cx="511.6" cy="349.6" r="6.94"/><circle cx="511.9" cy="349.6" r="6.94"/><circle cx="512.3" cy="349.6" r="6.94"/><circle cx="512.6" cy="349.6" r="6.94"/><circle cx="506.4" cy="349.6" r="6.94"/><circle cx="505.9" cy="349.6" r="6.94"/><circle cx="506.9" cy="349.6" r="6.94"/><circle cx="503.0" cy="349.6" r="6.94"/><circle cx="502.8" cy="349.6" r="6.94"/><circle cx="503.2" cy="349.6" r="6.94"/><circle cx="505.6" cy="349.6" r="6.94"/><circle cx="505.3" cy="349.6" r="6.94"/><circle cx="504.8" cy="349.6" r="6.94"/><circle cx="505.3" cy="349.6" r="6.94"/><circle cx="503.2" cy="349.6" r="6.94"/><circle cx="513.0" cy="344.6" r="6.94"/><circle cx="513.3" cy="344.6" r="6.94"/><circle cx="513.6" cy="344.6" r="6.94"/><circle cx="514.0" cy="344.6" r="6.94"/><circle cx="514.3" cy="344.6" r="6.94"/><circle cx="514.6" cy="344.6" r="6.94"/><circle cx="514.9" cy="344.6" r="6.94"/><circle cx="515.2" cy="344.6" r="6.94"/><circle cx="515.5" cy="344.6" r="6.94"/><circle cx="515.9" cy="344.6" r="6.94"/><circle cx="516.2" cy="344.6" r="6.94"/><circle cx="516.5" cy="344.6" r="6.94"/><circle cx="516.8" cy="344.6" r="6.94"/><circle cx="517.1" cy="344.6" r="6.94"/><circle cx="517.4" cy="344.6" r="6.94"/><circle cx="517.7" cy="344.6" r="6.94"/><circle cx="518.0" cy="344.6" r="6.94"/><circle cx="518.3" cy="344.6" r="6.94"/><circle cx="518.6" cy="344.6" r="6.94"/><circle cx="518.9" cy="344.6" r="6.94"/><circle cx="519.1" cy="344.6" r="6.94"/><circle cx="519.4" cy="344.6" r="6.94"/><circle cx="519.7" cy="344.6" r="6.94"/><circle cx="520.0" cy="344.6" r="6.94"/><circle cx="520.3" cy="344.6" r="6.94"/><circle cx="520.6" cy="344.6" r="6.94"/><circle cx="520.8" cy="344.6" r="6.94"/><circle cx="521.1" cy="344.6" r="6.94"/><circle cx="521.4" cy="344.6" r="6.94"/><circle cx="521.7" cy="344.6" r="6.94"/><circle cx="516.8" cy="344.6" r="6.94"/><circle cx="517.2" cy="344.6" r="6.94"/><circle cx="517.1" cy="344.6" r="6.94"/><circle cx="521.3" cy="344.6" r="6.94"/><circle cx="521.6" cy="344.6" r="6.94"/><circle cx="521.3" cy="344.6" r="6.94"/><circle cx="521.3" cy="344.6" r="6.94"/><circle cx="520.9" cy="344.6" r="6.94"/><circle cx="518.6" cy="344.6" r="6.94"/><circle cx="518.5" cy="344.6" r="6.94"/><circle cx="519.4" cy="344.6" r="6.94"/><circle cx="521.9" cy="339.6" r="6.94"/><circle cx="522.1" cy="339.6" r="6.94"/><circle cx="522.3" cy="339.6" r="6.94"/><circle cx="522.5" cy="339.6" r="6.94"/><circle cx="522.7" cy="339.6" r="6.94"/><circle cx="522.9" cy="339.6" r="6.94"/><circle cx="523.1" cy="339.6" r="6.94"/><circle cx="523.3" cy="339.6" r="6.94"/><circle cx="523.5" cy="339.6" r="6.94"/><circle cx="523.7" cy="339.6" r="6.94"/><circle cx="523.8" cy="339.6" r="6.94"/><circle cx="524.0" cy="339.6" r="6.94"/><circle cx="524.2" cy="339.6" r="6.94"/><circle cx="524.4" cy="339.6" r="6.94"/><circle cx="524.6" cy="339.6" r="6.94"/><circle cx="524.8" cy="339.6" r="6.94"/><circle cx="525.0" cy="339.6" r="6.94"/><circle cx="525.2" cy="339.6" r="6.94"/><circle cx="525.3" cy="339.6" r="6.94"/><circle cx="525.5" cy="339.6" r="6.94"/><circle cx="525.7" cy="339.6" r="6.94"/><circle cx="525.9" cy="339.6" r="6.94"/><circle cx="526.1" cy="339.6" r="6.94"/><circle cx="526.3" cy="339.6" r="6.94"/><circle cx="526.4" cy="339.6" r="6.94"/><circle cx="526.6" cy="339.6" r="6.94"/><circle cx="526.8" cy="339.6" r="6.94"/><circle cx="527.0" cy="339.6" r="6.94"/><circle cx="527.2" cy="339.6" r="6.94"/><circle cx="527.3" cy="339.6" r="6.94"/><circle cx="527.5" cy="339.6" r="6.94"/><circle cx="527.7" cy="339.6" r="6.94"/><circle cx="527.9" cy="339.6" r="6.94"/><circle cx="528.1" cy="339.6" r="6.94"/><circle cx="528.2" cy="339.6" r="6.94"/><circle cx="528.4" cy="339.6" r="6.94"/><circle cx="528.6" cy="339.6" r="6.94"/><circle cx="528.7" cy="339.6" r="6.94"/><circle cx="528.9" cy="339.6" r="6.94"/><circle cx="529.1" cy="339.6" r="6.94"/><circle cx="529.3" cy="339.6" r="6.94"/><circle cx="529.4" cy="339.6" r="6.94"/><circle cx="529.6" cy="339.6" r="6.94"/><circle cx="529.8" cy="339.6" r="6.94"/><circle cx="529.9" cy="339.6" r="6.94"/><circle cx="530.1" cy="339.6" r="6.94"/><circle cx="530.3" cy="339.6" r="6.94"/><circle cx="530.5" cy="339.6" r="6.94"/><circle cx="530.6" cy="339.6" r="6.94"/><circle cx="530.8" cy="339.6" r="6.94"/><circle cx="531.0" cy="339.6" r="6.94"/><circle cx="531.1" cy="339.6" r="6.94"/><circle cx="531.3" cy="339.6" r="6.94"/><circle cx="531.5" cy="339.6" r="6.94"/><circle cx="531.6" cy="339.6" r="6.94"/><circle cx="531.8" cy="334.6" r="6.94"/><circle cx="532.0" cy="334.6" r="6.94"/><circle cx="532.1" cy="334.6" r="6.94"/><circle cx="532.3" cy="334.6" r="6.94"/><circle cx="532.4" cy="334.6" r="6.94"/><circle cx="532.6" cy="334.6" r="6.94"/><circle cx="532.8" cy="334.6" r="6.94"/><circle cx="532.9" cy="334.6" r="6.94"/><circle cx="533.1" cy="334.6" r="6.94"/><circle cx="533.3" cy="334.6" r="6.94"/><circle cx="533.4" cy="334.6" r="6.94"/><circle cx="533.6" cy="334.6" r="6.94"/><circle cx="533.7" cy="334.6" r="6.94"/><circle cx="533.9" cy="334.6" r="6.94"/><circle cx="534.1" cy="334.6" r="6.94"/><circle cx="534.2" cy="334.6" r="6.94"/><circle cx="534.4" cy="334.6" r="6.94"/><circle cx="534.5" cy="334.6" r="6.94"/><circle cx="534.7" cy="334.6" r="6.94"/><circle cx="534.8" cy="334.6" r="6.94"/><circle cx="535.0" cy="334.6" r="6.94"/><circle cx="535.2" cy="334.6" r="6.94"/><circle cx="535.3" cy="334.6" r="6.94"/><circle cx="535.5" cy="334.6" r="6.94"/><circle cx="535.6" cy="334.6" r="6.94"/><circle cx="535.8" cy="334.6" r="6.94"/><circle cx="535.9" cy="334.6" r="6.94"/><circle cx="536.1" cy="334.6" r="6.94"/><circle cx="536.2" cy="334.6" r="6.94"/><circle cx="536.4" cy="334.6" r="6.94"/><circle cx="536.6" cy="334.6" r="6.94"/><circle cx="536.7" cy="334.6" r="6.94"/><circle cx="536.9" cy="334.6" r="6.94"/><circle cx="537.0" cy="334.6" r="6.94"/><circle cx="537.2" cy="334.6" r="6.94"/><circle cx="537.3" cy="334.6" r="6.94"/><circle cx="537.5" cy="334.6" r="6.94"/><circle cx="537.6" cy="334.6" r="6.94"/><circle cx="537.8" cy="334.6" r="6.94"/><circle cx="537.9" cy="334.6" r="6.94"/><circle cx="538.1" cy="334.6" r="6.94"/><circle cx="538.2" cy="334.6" r="6.94"/><circle cx="538.4" cy="334.6" r="6.94"/><circle cx="538.5" cy="334.6" r="6.94"/><circle cx="538.7" cy="334.6" r="6.94"/><circle cx="538.8" cy="334.6" r="6.94"/><circle cx="538.9" cy="334.6" r="6.94"/><circle cx="539.1" cy="334.6" r="6.94"/><circle cx="539.2" cy="334.6" r="6.94"/><circle cx="539.4" cy="334.6" r="6.94"/><circle cx="539.5" cy="334.6" r="6.94"/><circle cx="539.7" cy="334.6" r="6.94"/><circle cx="539.8" cy="334.6" r="6.94"/><circle cx="540.0" cy="329.7" r="6.94"/><circle cx="540.1" cy="329.7" r="6.94"/><circle cx="540.3" cy="329.7" r="6.94"/><circle cx="540.4" cy="329.7" r="6.94"/><circle cx="540.5" cy="329.7" r="6.94"/><circle cx="540.7" cy="329.7" r="6.94"/><circle cx="540.8" cy="329.7" r="6.94"/><circle cx="541.0" cy="329.7" r="6.94"/><circle cx="541.1" cy="329.7" r="6.94"/><circle cx="541.3" cy="329.7" r="6.94"/><circle cx="541.4" cy="329.7" r="6.94"/><circle cx="541.5" cy="329.7" r="6.94"/><circle cx="541.7" cy="329.7" r="6.94"/><circle cx="541.8" cy="329.7" r="6.94"/><circle cx="542.0" cy="329.7" r="6.94"/><circle cx="542.1" cy="329.7" r="6.94"/><circle cx="542.2" cy="329.7" r="6.94"/><circle cx="542.4" cy="329.7" r="6.94"/><circle cx="542.5" cy="329.7" r="6.94"/><circle cx="542.7" cy="329.7" r="6.94"/><circle cx="542.8" cy="329.7" r="6.94"/><circle cx="542.9" cy="329.7" r="6.94"/><circle cx="543.1" cy="329.7" r="6.94"/><circle cx="543.2" cy="329.7" r="6.94"/><circle cx="543.3" cy="329.7" r="6.94"/><circle cx="543.5" cy="329.7" r="6.94"/><circle cx="543.6" cy="329.7" r="6.94"/><circle cx="543.8" cy="329.7" r="6.94"/><circle cx="543.9" cy="329.7" r="6.94"/><circle cx="544.0" cy="329.7" r="6.94"/><circle cx="544.2" cy="329.7" r="6.94"/><circle cx="544.3" cy="329.7" r="6.94"/><circle cx="544.4" cy="329.7" r="6.94"/><circle cx="544.6" cy="329.7" r="6.94"/><circle cx="544.7" cy="329.7" r="6.94"/><circle cx="544.8" cy="329.7" r="6.94"/><circle cx="545.0" cy="329.7" r="6.94"/><circle cx="545.1" cy="329.7" r="6.94"/><circle cx="545.2" cy="329.7" r="6.94"/><circle cx="545.4" cy="329.7" r="6.94"/><circle cx="545.5" cy="329.7" r="6.94"/><circle cx="545.6" cy="329.7" r="6.94"/><circle cx="545.8" cy="329.7" r="6.94"/><circle cx="545.9" cy="329.7" r="6.94"/><circle cx="546.0" cy="329.7" r="6.94"/><circle cx="546.2" cy="329.7" r="6.94"/><circle cx="546.3" cy="329.7" r="6.94"/><circle cx="546.4" cy="329.7" r="6.94"/><circle cx="546.6" cy="329.7" r="6.94"/><circle cx="546.7" cy="329.7" r="6.94"/><circle cx="546.8" cy="329.7" r="6.94"/><circle cx="546.9" cy="329.7" r="6.94"/><circle cx="547.1" cy="329.7" r="6.94"/><circle cx="547.2" cy="329.7" r="6.94"/><circle cx="547.3" cy="329.7" r="6.94"/><circle cx="547.5" cy="329.7" r="6.94"/><circle cx="547.6" cy="329.7" r="6.94"/><circle cx="547.7" cy="329.7" r="6.94"/><circle cx="547.9" cy="329.7" r="6.94"/><circle cx="548.0" cy="329.7" r="6.94"/><circle cx="548.1" cy="329.7" r="6.94"/><circle cx="548.3" cy="329.7" r="6.94"/><circle cx="548.4" cy="329.7" r="6.94"/><circle cx="548.5" cy="329.7" r="6.94"/><circle cx="548.6" cy="329.7" r="6.94"/><circle cx="548.8" cy="329.7" r="6.94"/><circle cx="548.9" cy="329.7" r="6.94"/><circle cx="549.0" cy="329.7" r="6.94"/><circle cx="549.2" cy="329.7" r="6.94"/><circle cx="549.3" cy="329.7" r="6.94"/><circle cx="549.4" cy="329.7" r="6.94"/><circle cx="549.5" cy="329.7" r="6.94"/><circle cx="549.7" cy="329.7" r="6.94"/><circle cx="549.8" cy="329.7" r="6.94"/><circle cx="549.9" cy="329.7" r="6.94"/><circle cx="550.1" cy="329.7" r="6.94"/><circle cx="550.2" cy="329.7" r="6.94"/><circle cx="550.3" cy="329.7" r="6.94"/><circle cx="550.4" cy="329.7" r="6.94"/><circle cx="550.6" cy="329.7" r="6.94"/><circle cx="550.7" cy="329.7" r="6.94"/><circle cx="550.8" cy="329.7" r="6.94"/><circle cx="550.9" cy="329.7" r="6.94"/><circle cx="551.1" cy="329.7" r="6.94"/><circle cx="551.2" cy="329.7" r="6.94"/><circle cx="551.3" cy="329.7" r="6.94"/><circle cx="551.4" cy="329.7" r="6.94"/><circle cx="551.6" cy="329.7" r="6.94"/><circle cx="551.7" cy="329.7" r="6.94"/><circle cx="551.8" cy="329.7" r="6.94"/><circle cx="552.0" cy="329.7" r="6.94"/><circle cx="552.1" cy="324.7" r="6.94"/><circle cx="552.2" cy="324.7" r="6.94"/><circle cx="552.3" cy="324.7" r="6.94"/><circle cx="552.5" cy="324.7" r="6.94"/><circle cx="552.6" cy="324.7" r="6.94"/><circle cx="552.7" cy="324.7" r="6.94"/><circle cx="552.8" cy="324.7" r="6.94"/><circle cx="553.0" cy="324.7" r="6.94"/><circle cx="553.1" cy="324.7" r="6.94"/><circle cx="553.2" cy="324.7" r="6.94"/><circle cx="553.3" cy="324.7" r="6.94"/><circle cx="553.5" cy="324.7" r="6.94"/><circle cx="553.6" cy="324.7" r="6.94"/><circle cx="553.7" cy="324.7" r="6.94"/><circle cx="553.8" cy="324.7" r="6.94"/><circle cx="553.9" cy="324.7" r="6.94"/><circle cx="554.1" cy="324.7" r="6.94"/><circle cx="554.2" cy="324.7" r="6.94"/><circle cx="554.3" cy="324.7" r="6.94"/><circle cx="554.4" cy="324.7" r="6.94"/><circle cx="554.6" cy="324.7" r="6.94"/><circle cx="554.7" cy="324.7" r="6.94"/><circle cx="554.8" cy="324.7" r="6.94"/><circle cx="554.9" cy="324.7" r="6.94"/><circle cx="555.1" cy="324.7" r="6.94"/><circle cx="555.2" cy="324.7" r="6.94"/><circle cx="555.3" cy="324.7" r="6.94"/><circle cx="555.4" cy="324.7" r="6.94"/><circle cx="555.5" cy="324.7" r="6.94"/><circle cx="555.7" cy="324.7" r="6.94"/><circle cx="555.8" cy="324.7" r="6.94"/><circle cx="555.9" cy="324.7" r="6.94"/><circle cx="556.0" cy="324.7" r="6.94"/><circle cx="556.2" cy="324.7" r="6.94"/><circle cx="556.3" cy="324.7" r="6.94"/><circle cx="556.4" cy="324.7" r="6.94"/><circle cx="556.5" cy="324.7" r="6.94"/><circle cx="556.6" cy="324.7" r="6.94"/><circle cx="556.8" cy="324.7" r="6.94"/><circle cx="556.9" cy="324.7" r="6.94"/><circle cx="557.0" cy="324.7" r="6.94"/><circle cx="557.1" cy="324.7" r="6.94"/><circle cx="557.2" cy="324.7" r="6.94"/><circle cx="557.4" cy="324.7" r="6.94"/><circle cx="557.5" cy="324.7" r="6.94"/><circle cx="557.6" cy="324.7" r="6.94"/><circle cx="557.7" cy="324.7" r="6.94"/><circle cx="557.8" cy="324.7" r="6.94"/><circle cx="558.0" cy="324.7" r="6.94"/><circle cx="558.1" cy="324.7" r="6.94"/><circle cx="558.2" cy="324.7" r="6.94"/><circle cx="558.3" cy="324.7" r="6.94"/><circle cx="558.4" cy="324.7" r="6.94"/><circle cx="558.6" cy="324.7" r="6.94"/><circle cx="558.7" cy="324.7" r="6.94"/><circle cx="558.8" cy="324.7" r="6.94"/><circle cx="558.9" cy="324.7" r="6.94"/><circle cx="559.0" cy="324.7" r="6.94"/><circle cx="559.2" cy="324.7" r="6.94"/><circle cx="559.3" cy="324.7" r="6.94"/><circle cx="559.4" cy="324.7" r="6.94"/><circle cx="559.5" cy="324.7" r="6.94"/><circle cx="559.6" cy="324.7" r="6.94"/><circle cx="559.8" cy="324.7" r="6.94"/><circle cx="559.9" cy="324.7" r="6.94"/><circle cx="560.0" cy="324.7" r="6.94"/><circle cx="560.1" cy="324.7" r="6.94"/><circle cx="560.2" cy="324.7" r="6.94"/><circle cx="560.4" cy="324.7" r="6.94"/><circle cx="560.5" cy="324.7" r="6.94"/><circle cx="560.6" cy="324.7" r="6.94"/><circle cx="560.7" cy="324.7" r="6.94"/><circle cx="560.8" cy="324.7" r="6.94"/><circle cx="560.9" cy="324.7" r="6.94"/><circle cx="561.1" cy="324.7" r="6.94"/><circle cx="561.2" cy="324.7" r="6.94"/><circle cx="561.3" cy="324.7" r="6.94"/><circle cx="561.4" cy="324.7" r="6.94"/><circle cx="561.5" cy="324.7" r="6.94"/><circle cx="561.6" cy="324.7" r="6.94"/><circle cx="561.8" cy="324.7" r="6.94"/><circle cx="561.9" cy="324.7" r="6.94"/><circle cx="562.0" cy="324.7" r="6.94"/><circle cx="562.1" cy="324.7" r="6.94"/><circle cx="562.2" cy="324.7" r="6.94"/><circle cx="562.3" cy="324.7" r="6.94"/><circle cx="562.5" cy="324.7" r="6.94"/><circle cx="562.6" cy="324.7" r="6.94"/><circle cx="562.7" cy="324.7" r="6.94"/><circle cx="562.8" cy="324.7" r="6.94"/><circle cx="562.9" cy="324.7" r="6.94"/><circle cx="563.0" cy="324.7" r="6.94"/><circle cx="563.2" cy="324.7" r="6.94"/><circle cx="563.3" cy="324.7" r="6.94"/><circle cx="563.4" cy="324.7" r="6.94"/><circle cx="563.5" cy="324.7" r="6.94"/><circle cx="563.6" cy="324.7" r="6.94"/><circle cx="563.7" cy="319.7" r="6.94"/><circle cx="563.9" cy="319.7" r="6.94"/><circle cx="564.0" cy="319.7" r="6.94"/><circle cx="564.1" cy="319.7" r="6.94"/><circle cx="564.2" cy="319.7" r="6.94"/><circle cx="564.3" cy="319.7" r="6.94"/><circle cx="564.4" cy="319.7" r="6.94"/><circle cx="564.5" cy="319.7" r="6.94"/><circle cx="564.7" cy="319.7" r="6.94"/><circle cx="564.8" cy="319.7" r="6.94"/><circle cx="564.9" cy="319.7" r="6.94"/><circle cx="565.0" cy="319.7" r="6.94"/><circle cx="565.1" cy="319.7" r="6.94"/><circle cx="565.2" cy="319.7" r="6.94"/><circle cx="565.3" cy="319.7" r="6.94"/><circle cx="565.5" cy="319.7" r="6.94"/><circle cx="565.6" cy="319.7" r="6.94"/><circle cx="565.7" cy="319.7" r="6.94"/><circle cx="565.8" cy="319.7" r="6.94"/><circle cx="565.9" cy="319.7" r="6.94"/><circle cx="566.0" cy="319.7" r="6.94"/><circle cx="566.1" cy="319.7" r="6.94"/><circle cx="566.3" cy="319.7" r="6.94"/><circle cx="566.4" cy="319.7" r="6.94"/><circle cx="566.5" cy="319.7" r="6.94"/><circle cx="566.6" cy="319.7" r="6.94"/><circle cx="566.7" cy="319.7" r="6.94"/><circle cx="566.8" cy="319.7" r="6.94"/><circle cx="566.9" cy="319.7" r="6.94"/><circle cx="567.1" cy="319.7" r="6.94"/><circle cx="567.2" cy="319.7" r="6.94"/><circle cx="567.3" cy="319.7" r="6.94"/><circle cx="567.4" cy="319.7" r="6.94"/><circle cx="567.5" cy="319.7" r="6.94"/><circle cx="567.6" cy="319.7" r="6.94"/><circle cx="567.7" cy="319.7" r="6.94"/><circle cx="567.8" cy="319.7" r="6.94"/><circle cx="568.0" cy="319.7" r="6.94"/><circle cx="568.1" cy="319.7" r="6.94"/><circle cx="568.2" cy="319.7" r="6.94"/><circle cx="568.3" cy="319.7" r="6.94"/><circle cx="568.4" cy="319.7" r="6.94"/><circle cx="568.5" cy="319.7" r="6.94"/><circle cx="568.6" cy="319.7" r="6.94"/><circle cx="568.8" cy="319.7" r="6.94"/><circle cx="568.9" cy="319.7" r="6.94"/><circle cx="569.0" cy="319.7" r="6.94"/><circle cx="569.1" cy="319.7" r="6.94"/><circle cx="569.2" cy="319.7" r="6.94"/><circle cx="569.3" cy="319.7" r="6.94"/><circle cx="569.4" cy="319.7" r="6.94"/><circle cx="569.6" cy="319.7" r="6.94"/><circle cx="569.7" cy="319.7" r="6.94"/><circle cx="569.8" cy="319.7" r="6.94"/><circle cx="569.9" cy="319.7" r="6.94"/><circle cx="570.0" cy="319.7" r="6.94"/><circle cx="570.1" cy="319.7" r="6.94"/><circle cx="570.2" cy="319.7" r="6.94"/><circle cx="570.4" cy="319.7" r="6.94"/><circle cx="570.5" cy="319.7" r="6.94"/><circle cx="570.6" cy="319.7" r="6.94"/><circle cx="570.7" cy="319.7" r="6.94"/><circle cx="570.8" cy="319.7" r="6.94"/><circle cx="570.9" cy="319.7" r="6.94"/><circle cx="571.0" cy="319.7" r="6.94"/><circle cx="571.1" cy="319.7" r="6.94"/><circle cx="571.3" cy="319.7" r="6.94"/><circle cx="571.4" cy="319.7" r="6.94"/><circle cx="571.5" cy="319.7" r="6.94"/><circle cx="571.6" cy="319.7" r="6.94"/><circle cx="571.7" cy="319.7" r="6.94"/><circle cx="571.8" cy="319.7" r="6.94"/><circle cx="571.9" cy="319.7" r="6.94"/><circle cx="572.1" cy="319.7" r="6.94"/><circle cx="572.2" cy="319.7" r="6.94"/><circle cx="572.3" cy="319.7" r="6.94"/><circle cx="572.4" cy="319.7" r="6.94"/><circle cx="572.5" cy="319.7" r="6.94"/><circle cx="572.6" cy="319.7" r="6.94"/><circle cx="572.7" cy="319.7" r="6.94"/><circle cx="572.9" cy="319.7" r="6.94"/><circle cx="573.0" cy="314.8" r="6.94"/><circle cx="573.1" cy="314.8" r="6.94"/><circle cx="573.2" cy="314.8" r="6.94"/><circle cx="573.3" cy="314.8" r="6.94"/><circle cx="573.4" cy="314.8" r="6.94"/><circle cx="573.5" cy="314.8" r="6.94"/><circle cx="573.6" cy="314.8" r="6.94"/><circle cx="573.8" cy="314.8" r="6.94"/><circle cx="573.9" cy="314.8" r="6.94"/><circle cx="574.0" cy="314.8" r="6.94"/><circle cx="574.1" cy="314.8" r="6.94"/><circle cx="574.2" cy="314.8" r="6.94"/><circle cx="574.3" cy="314.8" r="6.94"/><circle cx="574.4" cy="314.8" r="6.94"/><circle cx="574.6" cy="314.8" r="6.94"/><circle cx="574.7" cy="314.8" r="6.94"/><circle cx="574.8" cy="314.8" r="6.94"/><circle cx="574.9" cy="314.8" r="6.94"/><circle cx="575.0" cy="314.8" r="6.94"/><circle cx="575.1" cy="314.8" r="6.94"/><circle cx="575.2" cy="314.8" r="6.94"/><circle cx="575.4" cy="314.8" r="6.94"/><circle cx="575.5" cy="314.8" r="6.94"/><circle cx="575.6" cy="314.8" r="6.94"/><circle cx="575.7" cy="314.8" r="6.94"/><circle cx="575.8" cy="314.8" r="6.94"/><circle cx="575.9" cy="314.8" r="6.94"/><circle cx="576.0" cy="314.8" r="6.94"/><circle cx="576.2" cy="314.8" r="6.94"/><circle cx="576.3" cy="314.8" r="6.94"/><circle cx="576.4" cy="314.8" r="6.94"/><circle cx="576.5" cy="314.8" r="6.94"/><circle cx="576.6" cy="314.8" r="6.94"/><circle cx="576.7" cy="314.8" r="6.94"/><circle cx="576.8" cy="314.8" r="6.94"/><circle cx="577.0" cy="314.8" r="6.94"/><circle cx="577.1" cy="314.8" r="6.94"/><circle cx="577.2" cy="314.8" r="6.94"/><circle cx="577.3" cy="314.8" r="6.94"/><circle cx="577.4" cy="314.8" r="6.94"/><circle cx="577.5" cy="314.8" r="6.94"/><circle cx="577.6" cy="314.8" r="6.94"/><circle cx="577.7" cy="314.8" r="6.94"/><circle cx="577.9" cy="314.8" r="6.94"/><circle cx="578.0" cy="314.8" r="6.94"/><circle cx="578.1" cy="314.8" r="6.94"/><circle cx="578.2" cy="314.8" r="6.94"/><circle cx="578.3" cy="314.8" r="6.94"/><circle cx="578.4" cy="314.8" r="6.94"/><circle cx="578.5" cy="314.8" r="6.94"/><circle cx="578.7" cy="314.8" r="6.94"/><circle cx="578.8" cy="314.8" r="6.94"/><circle cx="578.9" cy="314.8" r="6.94"/><circle cx="579.0" cy="314.8" r="6.94"/><circle cx="579.1" cy="309.8" r="6.94"/><circle cx="579.2" cy="309.8" r="6.94"/><circle cx="579.3" cy="309.8" r="6.94"/><circle cx="579.5" cy="309.8" r="6.94"/><circle cx="579.6" cy="309.8" r="6.94"/><circle cx="579.7" cy="309.8" r="6.94"/><circle cx="579.8" cy="309.8" r="6.94"/><circle cx="579.9" cy="309.8" r="6.94"/><circle cx="580.0" cy="309.8" r="6.94"/><circle cx="580.1" cy="309.8" r="6.94"/><circle cx="580.3" cy="309.8" r="6.94"/><circle cx="580.4" cy="309.8" r="6.94"/><circle cx="580.5" cy="309.8" r="6.94"/><circle cx="580.6" cy="309.8" r="6.94"/><circle cx="580.7" cy="309.8" r="6.94"/><circle cx="580.8" cy="309.8" r="6.94"/><circle cx="580.9" cy="309.8" r="6.94"/><circle cx="581.0" cy="309.8" r="6.94"/><circle cx="581.2" cy="309.8" r="6.94"/><circle cx="581.3" cy="309.8" r="6.94"/><circle cx="581.4" cy="309.8" r="6.94"/><circle cx="581.5" cy="309.8" r="6.94"/><circle cx="581.6" cy="309.8" r="6.94"/><circle cx="581.7" cy="309.8" r="6.94"/><circle cx="581.8" cy="309.8" r="6.94"/><circle cx="582.0" cy="309.8" r="6.94"/><circle cx="582.1" cy="309.8" r="6.94"/><circle cx="582.2" cy="309.8" r="6.94"/><circle cx="582.3" cy="309.8" r="6.94"/><circle cx="582.4" cy="309.8" r="6.94"/><circle cx="582.5" cy="309.8" r="6.94"/><circle cx="582.6" cy="309.8" r="6.94"/><circle cx="582.8" cy="309.8" r="6.94"/><circle cx="582.9" cy="309.8" r="6.94"/><circle cx="583.0" cy="309.8" r="6.94"/><circle cx="583.1" cy="309.8" r="6.94"/><circle cx="583.2" cy="309.8" r="6.94"/><circle cx="583.3" cy="309.8" r="6.94"/><circle cx="583.4" cy="309.8" r="6.94"/><circle cx="583.5" cy="309.8" r="6.94"/><circle cx="583.7" cy="309.8" r="6.94"/><circle cx="583.8" cy="309.8" r="6.94"/><circle cx="583.9" cy="309.8" r="6.94"/><circle cx="584.0" cy="309.8" r="6.94"/><circle cx="584.1" cy="309.8" r="6.94"/><circle cx="584.2" cy="309.8" r="6.94"/><circle cx="584.3" cy="309.8" r="6.94"/><circle cx="584.5" cy="309.8" r="6.94"/><circle cx="584.6" cy="309.8" r="6.94"/><circle cx="584.7" cy="309.8" r="6.94"/><circle cx="584.8" cy="309.8" r="6.94"/><circle cx="584.9" cy="309.8" r="6.94"/><circle cx="585.0" cy="309.8" r="6.94"/><circle cx="585.1" cy="304.8" r="6.94"/><circle cx="585.3" cy="304.8" r="6.94"/><circle cx="585.4" cy="304.8" r="6.94"/><circle cx="585.5" cy="304.8" r="6.94"/><circle cx="585.6" cy="304.8" r="6.94"/><circle cx="585.7" cy="304.8" r="6.94"/><circle cx="585.8" cy="304.8" r="6.94"/><circle cx="585.9" cy="304.8" r="6.94"/><circle cx="586.1" cy="304.8" r="6.94"/><circle cx="586.2" cy="304.8" r="6.94"/><circle cx="586.3" cy="304.8" r="6.94"/><circle cx="586.4" cy="304.8" r="6.94"/><circle cx="586.5" cy="304.8" r="6.94"/><circle cx="586.6" cy="304.8" r="6.94"/><circle cx="586.7" cy="304.8" r="6.94"/><circle cx="586.9" cy="304.8" r="6.94"/><circle cx="587.0" cy="304.8" r="6.94"/><circle cx="587.1" cy="304.8" r="6.94"/><circle cx="587.2" cy="304.8" r="6.94"/><circle cx="587.3" cy="304.8" r="6.94"/><circle cx="587.4" cy="304.8" r="6.94"/><circle cx="587.5" cy="304.8" r="6.94"/><circle cx="587.7" cy="304.8" r="6.94"/><circle cx="587.8" cy="304.8" r="6.94"/><circle cx="587.9" cy="304.8" r="6.94"/><circle cx="588.0" cy="304.8" r="6.94"/><circle cx="588.1" cy="304.8" r="6.94"/><circle cx="588.2" cy="304.8" r="6.94"/><circle cx="588.3" cy="304.8" r="6.94"/><circle cx="588.5" cy="304.8" r="6.94"/><circle cx="588.6" cy="304.8" r="6.94"/><circle cx="588.7" cy="304.8" r="6.94"/><circle cx="588.8" cy="304.8" r="6.94"/><circle cx="588.9" cy="304.8" r="6.94"/><circle cx="589.0" cy="304.8" r="6.94"/><circle cx="589.1" cy="304.8" r="6.94"/><circle cx="589.3" cy="304.8" r="6.94"/><circle cx="589.4" cy="304.8" r="6.94"/><circle cx="589.5" cy="304.8" r="6.94"/><circle cx="589.6" cy="304.8" r="6.94"/><circle cx="589.7" cy="304.8" r="6.94"/><circle cx="589.8" cy="304.8" r="6.94"/><circle cx="589.9" cy="304.8" r="6.94"/><circle cx="590.1" cy="304.8" r="6.94"/><circle cx="590.2" cy="304.8" r="6.94"/><circle cx="590.3" cy="304.8" r="6.94"/><circle cx="590.4" cy="304.8" r="6.94"/><circle cx="590.5" cy="304.8" r="6.94"/><circle cx="590.6" cy="304.8" r="6.94"/><circle cx="590.7" cy="304.8" r="6.94"/><circle cx="590.9" cy="304.8" r="6.94"/><circle cx="591.0" cy="304.8" r="6.94"/><circle cx="591.1" cy="304.8" r="6.94"/><circle cx="591.2" cy="299.8" r="6.94"/><circle cx="591.3" cy="299.8" r="6.94"/><circle cx="591.4" cy="299.8" r="6.94"/><circle cx="591.5" cy="299.8" r="6.94"/><circle cx="591.7" cy="299.8" r="6.94"/><circle cx="591.8" cy="299.8" r="6.94"/><circle cx="591.9" cy="299.8" r="6.94"/><circle cx="592.0" cy="299.8" r="6.94"/><circle cx="592.1" cy="299.8" r="6.94"/><circle cx="592.2" cy="299.8" r="6.94"/><circle cx="592.3" cy="299.8" r="6.94"/><circle cx="592.4" cy="299.8" r="6.94"/><circle cx="592.6" cy="299.8" r="6.94"/><circle cx="592.7" cy="299.8" r="6.94"/><circle cx="592.8" cy="299.8" r="6.94"/><circle cx="592.9" cy="299.8" r="6.94"/><circle cx="593.0" cy="299.8" r="6.94"/><circle cx="593.1" cy="299.8" r="6.94"/><circle cx="593.2" cy="299.8" r="6.94"/><circle cx="593.4" cy="299.8" r="6.94"/><circle cx="593.5" cy="299.8" r="6.94"/><circle cx="593.6" cy="299.8" r="6.94"/><circle cx="593.7" cy="299.8" r="6.94"/><circle cx="593.8" cy="299.8" r="6.94"/><circle cx="593.9" cy="299.8" r="6.94"/><circle cx="594.0" cy="299.8" r="6.94"/><circle cx="594.1" cy="299.8" r="6.94"/><circle cx="594.3" cy="299.8" r="6.94"/><circle cx="594.4" cy="299.8" r="6.94"/><circle cx="594.5" cy="299.8" r="6.94"/><circle cx="594.6" cy="299.8" r="6.94"/><circle cx="594.7" cy="299.8" r="6.94"/><circle cx="594.8" cy="299.8" r="6.94"/><circle cx="594.9" cy="299.8" r="6.94"/><circle cx="595.0" cy="299.8" r="6.94"/><circle cx="595.2" cy="299.8" r="6.94"/><circle cx="595.3" cy="299.8" r="6.94"/><circle cx="595.4" cy="299.8" r="6.94"/><circle cx="595.5" cy="299.8" r="6.94"/><circle cx="595.6" cy="299.8" r="6.94"/><circle cx="595.7" cy="299.8" r="6.94"/><circle cx="595.8" cy="299.8" r="6.94"/><circle cx="596.0" cy="299.8" r="6.94"/><circle cx="596.1" cy="299.8" r="6.94"/><circle cx="596.2" cy="299.8" r="6.94"/><circle cx="596.3" cy="299.8" r="6.94"/><circle cx="596.4" cy="299.8" r="6.94"/><circle cx="596.5" cy="299.8" r="6.94"/><circle cx="596.6" cy="299.8" r="6.94"/><circle cx="596.7" cy="299.8" r="6.94"/><circle cx="596.9" cy="299.8" r="6.94"/><circle cx="597.0" cy="299.8" r="6.94"/><circle cx="597.1" cy="299.8" r="6.94"/><circle cx="597.2" cy="299.8" r="6.94"/><circle cx="597.3" cy="294.8" r="6.94"/><circle cx="597.4" cy="294.8" r="6.94"/><circle cx="597.5" cy="294.8" r="6.94"/><circle cx="597.7" cy="294.8" r="6.94"/><circle cx="597.8" cy="294.8" r="6.94"/><circle cx="597.9" cy="294.8" r="6.94"/><circle cx="598.0" cy="294.8" r="6.94"/><circle cx="598.1" cy="294.8" r="6.94"/><circle cx="598.2" cy="294.8" r="6.94"/><circle cx="598.3" cy="294.8" r="6.94"/><circle cx="598.4" cy="294.8" r="6.94"/><circle cx="598.6" cy="294.8" r="6.94"/><circle cx="598.7" cy="294.8" r="6.94"/><circle cx="598.8" cy="294.8" r="6.94"/><circle cx="598.9" cy="294.8" r="6.94"/><circle cx="599.0" cy="294.8" r="6.94"/><circle cx="599.1" cy="294.8" r="6.94"/><circle cx="599.2" cy="294.8" r="6.94"/><circle cx="599.4" cy="294.8" r="6.94"/><circle cx="599.5" cy="294.8" r="6.94"/><circle cx="599.6" cy="294.8" r="6.94"/><circle cx="599.7" cy="294.8" r="6.94"/><circle cx="599.8" cy="294.8" r="6.94"/><circle cx="599.9" cy="294.8" r="6.94"/><circle cx="600.0" cy="294.8" r="6.94"/><circle cx="600.2" cy="294.8" r="6.94"/><circle cx="600.3" cy="294.8" r="6.94"/><circle cx="600.4" cy="294.8" r="6.94"/><circle cx="600.5" cy="294.8" r="6.94"/><circle cx="600.6" cy="294.8" r="6.94"/><circle cx="600.7" cy="294.8" r="6.94"/><circle cx="600.8" cy="294.8" r="6.94"/><circle cx="600.9" cy="294.8" r="6.94"/><circle cx="601.1" cy="294.8" r="6.94"/><circle cx="601.2" cy="294.8" r="6.94"/><circle cx="601.3" cy="294.8" r="6.94"/><circle cx="601.4" cy="294.8" r="6.94"/><circle cx="601.5" cy="294.8" r="6.94"/><circle cx="601.6" cy="294.8" r="6.94"/><circle cx="601.7" cy="294.8" r="6.94"/><circle cx="601.9" cy="294.8" r="6.94"/><circle cx="602.0" cy="294.8" r="6.94"/><circle cx="602.1" cy="294.8" r="6.94"/><circle cx="602.2" cy="294.8" r="6.94"/><circle cx="602.3" cy="294.8" r="6.94"/><circle cx="602.4" cy="294.8" r="6.94"/><circle cx="602.5" cy="294.8" r="6.94"/><circle cx="602.7" cy="294.8" r="6.94"/><circle cx="602.8" cy="294.8" r="6.94"/><circle cx="602.9" cy="294.8" r="6.94"/><circle cx="603.0" cy="294.8" r="6.94"/><circle cx="603.1" cy="294.8" r="6.94"/><circle cx="603.2" cy="294.8" r="6.94"/><circle cx="603.3" cy="294.8" r="6.94"/><circle cx="603.4" cy="294.8" r="6.94"/><circle cx="603.6" cy="294.8" r="6.94"/><circle cx="603.7" cy="294.8" r="6.94"/><circle cx="603.8" cy="294.8" r="6.94"/><circle cx="603.9" cy="294.8" r="6.94"/><circle cx="604.0" cy="294.8" r="6.94"/><circle cx="604.1" cy="294.8" r="6.94"/><circle cx="604.2" cy="294.8" r="6.94"/><circle cx="604.4" cy="294.8" r="6.94"/><circle cx="604.5" cy="294.8" r="6.94"/><circle cx="604.6" cy="294.8" r="6.94"/><circle cx="604.7" cy="294.8" r="6.94"/><circle cx="604.8" cy="294.8" r="6.94"/><circle cx="604.9" cy="294.8" r="6.94"/><circle cx="605.0" cy="294.8" r="6.94"/><circle cx="605.2" cy="294.8" r="6.94"/><circle cx="605.3" cy="294.8" r="6.94"/><circle cx="605.4" cy="289.9" r="6.94"/><circle cx="605.5" cy="289.9" r="6.94"/><circle cx="605.6" cy="289.9" r="6.94"/><circle cx="605.7" cy="289.9" r="6.94"/><circle cx="605.8" cy="289.9" r="6.94"/><circle cx="605.9" cy="289.9" r="6.94"/><circle cx="606.1" cy="289.9" r="6.94"/><circle cx="606.2" cy="289.9" r="6.94"/><circle cx="606.3" cy="289.9" r="6.94"/><circle cx="606.4" cy="289.9" r="6.94"/><circle cx="606.5" cy="289.9" r="6.94"/><circle cx="606.6" cy="289.9" r="6.94"/><circle cx="606.7" cy="289.9" r="6.94"/><circle cx="606.9" cy="289.9" r="6.94"/><circle cx="607.0" cy="289.9" r="6.94"/><circle cx="607.1" cy="289.9" r="6.94"/><circle cx="607.2" cy="289.9" r="6.94"/><circle cx="607.3" cy="289.9" r="6.94"/><circle cx="607.4" cy="289.9" r="6.94"/><circle cx="607.5" cy="289.9" r="6.94"/><circle cx="607.7" cy="289.9" r="6.94"/><circle cx="607.8" cy="289.9" r="6.94"/><circle cx="607.9" cy="289.9" r="6.94"/><circle cx="608.0" cy="289.9" r="6.94"/><circle cx="608.1" cy="289.9" r="6.94"/><circle cx="608.2" cy="289.9" r="6.94"/><circle cx="608.3" cy="289.9" r="6.94"/><circle cx="608.5" cy="289.9" r="6.94"/><circle cx="608.6" cy="289.9" r="6.94"/><circle cx="608.7" cy="289.9" r="6.94"/><circle cx="608.8" cy="289.9" r="6.94"/><circle cx="608.9" cy="289.9" r="6.94"/><circle cx="609.0" cy="289.9" r="6.94"/><circle cx="609.1" cy="289.9" r="6.94"/><circle cx="609.2" cy="289.9" r="6.94"/><circle cx="609.4" cy="289.9" r="6.94"/><circle cx="609.5" cy="289.9" r="6.94"/><circle cx="609.6" cy="289.9" r="6.94"/><circle cx="609.7" cy="289.9" r="6.94"/><circle cx="609.8" cy="289.9" r="6.94"/><circle cx="609.9" cy="289.9" r="6.94"/><circle cx="610.0" cy="289.9" r="6.94"/><circle cx="610.2" cy="289.9" r="6.94"/><circle cx="610.3" cy="289.9" r="6.94"/><circle cx="610.4" cy="289.9" r="6.94"/><circle cx="610.5" cy="289.9" r="6.94"/><circle cx="610.6" cy="289.9" r="6.94"/><circle cx="610.7" cy="289.9" r="6.94"/><circle cx="610.8" cy="289.9" r="6.94"/><circle cx="611.0" cy="289.9" r="6.94"/><circle cx="611.1" cy="289.9" r="6.94"/><circle cx="611.2" cy="289.9" r="6.94"/><circle cx="611.3" cy="289.9" r="6.94"/><circle cx="611.4" cy="289.9" r="6.94"/><circle cx="611.5" cy="289.9" r="6.94"/><circle cx="611.6" cy="289.9" r="6.94"/><circle cx="611.7" cy="289.9" r="6.94"/><circle cx="611.9" cy="289.9" r="6.94"/><circle cx="612.0" cy="289.9" r="6.94"/><circle cx="612.1" cy="289.9" r="6.94"/><circle cx="612.2" cy="289.9" r="6.94"/><circle cx="612.3" cy="289.9" r="6.94"/><circle cx="612.4" cy="289.9" r="6.94"/><circle cx="612.5" cy="289.9" r="6.94"/><circle cx="612.7" cy="289.9" r="6.94"/><circle cx="612.8" cy="289.9" r="6.94"/><circle cx="612.9" cy="289.9" r="6.94"/><circle cx="613.0" cy="289.9" r="6.94"/><circle cx="613.1" cy="289.9" r="6.94"/><circle cx="613.2" cy="289.9" r="6.94"/><circle cx="613.3" cy="289.9" r="6.94"/><circle cx="613.5" cy="289.9" r="6.94"/><circle cx="613.6" cy="289.9" r="6.94"/><circle cx="613.7" cy="289.9" r="6.94"/><circle cx="613.8" cy="289.9" r="6.94"/><circle cx="613.9" cy="284.9" r="6.94"/><circle cx="614.0" cy="284.9" r="6.94"/><circle cx="614.1" cy="284.9" r="6.94"/><circle cx="614.3" cy="284.9" r="6.94"/><circle cx="614.4" cy="284.9" r="6.94"/><circle cx="614.5" cy="284.9" r="6.94"/><circle cx="614.6" cy="284.9" r="6.94"/><circle cx="614.7" cy="284.9" r="6.94"/><circle cx="614.8" cy="284.9" r="6.94"/><circle cx="614.9" cy="284.9" r="6.94"/><circle cx="615.1" cy="284.9" r="6.94"/><circle cx="615.2" cy="284.9" r="6.94"/><circle cx="615.3" cy="284.9" r="6.94"/><circle cx="615.4" cy="284.9" r="6.94"/><circle cx="615.5" cy="284.9" r="6.94"/><circle cx="615.6" cy="284.9" r="6.94"/><circle cx="615.7" cy="284.9" r="6.94"/><circle cx="615.8" cy="284.9" r="6.94"/><circle cx="616.0" cy="284.9" r="6.94"/><circle cx="616.1" cy="284.9" r="6.94"/><circle cx="616.2" cy="284.9" r="6.94"/><circle cx="616.3" cy="284.9" r="6.94"/><circle cx="616.4" cy="284.9" r="6.94"/><circle cx="616.5" cy="284.9" r="6.94"/><circle cx="616.6" cy="284.9" r="6.94"/><circle cx="616.8" cy="284.9" r="6.94"/><circle cx="616.9" cy="284.9" r="6.94"/><circle cx="617.0" cy="284.9" r="6.94"/><circle cx="617.1" cy="284.9" r="6.94"/><circle cx="617.2" cy="284.9" r="6.94"/><circle cx="617.3" cy="284.9" r="6.94"/><circle cx="617.4" cy="284.9" r="6.94"/><circle cx="617.6" cy="284.9" r="6.94"/><circle cx="617.7" cy="284.9" r="6.94"/><circle cx="617.8" cy="284.9" r="6.94"/><circle cx="617.9" cy="284.9" r="6.94"/><circle cx="618.0" cy="284.9" r="6.94"/><circle cx="618.1" cy="284.9" r="6.94"/><circle cx="618.2" cy="284.9" r="6.94"/><circle cx="618.4" cy="284.9" r="6.94"/><circle cx="618.5" cy="284.9" r="6.94"/><circle cx="618.6" cy="284.9" r="6.94"/><circle cx="618.7" cy="284.9" r="6.94"/><circle cx="618.8" cy="284.9" r="6.94"/><circle cx="618.9" cy="284.9" r="6.94"/><circle cx="619.0" cy="284.9" r="6.94"/><circle cx="619.2" cy="284.9" r="6.94"/><circle cx="619.3" cy="284.9" r="6.94"/><circle cx="619.4" cy="284.9" r="6.94"/><circle cx="619.5" cy="284.9" r="6.94"/><circle cx="619.6" cy="284.9" r="6.94"/><circle cx="619.7" cy="284.9" r="6.94"/><circle cx="619.8" cy="284.9" r="6.94"/><circle cx="620.0" cy="284.9" r="6.94"/><circle cx="620.1" cy="284.9" r="6.94"/><circle cx="620.2" cy="284.9" r="6.94"/><circle cx="620.3" cy="284.9" r="6.94"/><circle cx="620.4" cy="284.9" r="6.94"/><circle cx="620.5" cy="284.9" r="6.94"/><circle cx="620.6" cy="284.9" r="6.94"/><circle cx="620.8" cy="284.9" r="6.94"/><circle cx="620.9" cy="284.9" r="6.94"/><circle cx="621.0" cy="279.9" r="6.94"/><circle cx="621.1" cy="279.9" r="6.94"/><circle cx="621.2" cy="279.9" r="6.94"/><circle cx="621.3" cy="279.9" r="6.94"/><circle cx="621.4" cy="279.9" r="6.94"/><circle cx="621.5" cy="279.9" r="6.94"/><circle cx="621.7" cy="279.9" r="6.94"/><circle cx="621.8" cy="279.9" r="6.94"/><circle cx="621.9" cy="279.9" r="6.94"/><circle cx="622.0" cy="279.9" r="6.94"/><circle cx="622.1" cy="279.9" r="6.94"/><circle cx="622.2" cy="279.9" r="6.94"/><circle cx="622.3" cy="279.9" r="6.94"/><circle cx="622.4" cy="279.9" r="6.94"/><circle cx="622.6" cy="279.9" r="6.94"/><circle cx="622.7" cy="279.9" r="6.94"/><circle cx="622.8" cy="279.9" r="6.94"/><circle cx="622.9" cy="279.9" r="6.94"/><circle cx="623.0" cy="279.9" r="6.94"/><circle cx="623.1" cy="279.9" r="6.94"/><circle cx="623.2" cy="279.9" r="6.94"/><circle cx="623.4" cy="279.9" r="6.94"/><circle cx="623.5" cy="279.9" r="6.94"/><circle cx="623.6" cy="279.9" r="6.94"/><circle cx="623.7" cy="279.9" r="6.94"/><circle cx="623.8" cy="279.9" r="6.94"/><circle cx="623.9" cy="279.9" r="6.94"/><circle cx="624.0" cy="279.9" r="6.94"/><circle cx="624.1" cy="279.9" r="6.94"/><circle cx="624.3" cy="279.9" r="6.94"/><circle cx="624.4" cy="279.9" r="6.94"/><circle cx="624.5" cy="279.9" r="6.94"/><circle cx="624.6" cy="279.9" r="6.94"/><circle cx="624.7" cy="279.9" r="6.94"/><circle cx="624.8" cy="279.9" r="6.94"/><circle cx="624.9" cy="279.9" r="6.94"/><circle cx="625.0" cy="279.9" r="6.94"/><circle cx="625.2" cy="279.9" r="6.94"/><circle cx="625.3" cy="279.9" r="6.94"/><circle cx="625.4" cy="279.9" r="6.94"/><circle cx="625.5" cy="279.9" r="6.94"/><circle cx="625.6" cy="279.9" r="6.94"/><circle cx="625.7" cy="279.9" r="6.94"/><circle cx="625.8" cy="279.9" r="6.94"/><circle cx="626.0" cy="279.9" r="6.94"/><circle cx="626.1" cy="279.9" r="6.94"/><circle cx="626.2" cy="279.9" r="6.94"/><circle cx="626.3" cy="279.9" r="6.94"/><circle cx="626.4" cy="279.9" r="6.94"/><circle cx="626.5" cy="279.9" r="6.94"/><circle cx="626.6" cy="279.9" r="6.94"/><circle cx="626.7" cy="279.9" r="6.94"/><circle cx="626.9" cy="279.9" r="6.94"/><circle cx="627.0" cy="279.9" r="6.94"/><circle cx="627.1" cy="275.0" r="6.94"/><circle cx="627.2" cy="275.0" r="6.94"/><circle cx="627.3" cy="275.0" r="6.94"/><circle cx="627.4" cy="275.0" r="6.94"/><circle cx="627.5" cy="275.0" r="6.94"/><circle cx="627.6" cy="275.0" r="6.94"/><circle cx="627.8" cy="275.0" r="6.94"/><circle cx="627.9" cy="275.0" r="6.94"/><circle cx="628.0" cy="275.0" r="6.94"/><circle cx="628.1" cy="275.0" r="6.94"/><circle cx="628.2" cy="275.0" r="6.94"/><circle cx="628.3" cy="275.0" r="6.94"/><circle cx="628.4" cy="275.0" r="6.94"/><circle cx="628.6" cy="275.0" r="6.94"/><circle cx="628.7" cy="275.0" r="6.94"/><circle cx="628.8" cy="275.0" r="6.94"/><circle cx="628.9" cy="275.0" r="6.94"/><circle cx="629.0" cy="275.0" r="6.94"/><circle cx="629.1" cy="275.0" r="6.94"/><circle cx="629.2" cy="275.0" r="6.94"/><circle cx="629.3" cy="275.0" r="6.94"/><circle cx="629.5" cy="275.0" r="6.94"/><circle cx="629.6" cy="275.0" r="6.94"/><circle cx="629.7" cy="275.0" r="6.94"/><circle cx="629.8" cy="275.0" r="6.94"/><circle cx="629.9" cy="275.0" r="6.94"/><circle cx="630.0" cy="275.0" r="6.94"/><circle cx="630.1" cy="275.0" r="6.94"/><circle cx="630.2" cy="275.0" r="6.94"/><circle cx="630.4" cy="275.0" r="6.94"/><circle cx="630.5" cy="275.0" r="6.94"/><circle cx="630.6" cy="275.0" r="6.94"/><circle cx="630.7" cy="275.0" r="6.94"/><circle cx="630.8" cy="275.0" r="6.94"/><circle cx="630.9" cy="275.0" r="6.94"/><circle cx="631.0" cy="275.0" r="6.94"/><circle cx="631.1" cy="275.0" r="6.94"/><circle cx="631.3" cy="275.0" r="6.94"/><circle cx="631.4" cy="275.0" r="6.94"/><circle cx="631.5" cy="275.0" r="6.94"/><circle cx="631.6" cy="275.0" r="6.94"/><circle cx="631.7" cy="275.0" r="6.94"/><circle cx="631.8" cy="275.0" r="6.94"/><circle cx="631.9" cy="275.0" r="6.94"/><circle cx="632.1" cy="275.0" r="6.94"/><circle cx="632.2" cy="275.0" r="6.94"/><circle cx="632.3" cy="275.0" r="6.94"/><circle cx="632.4" cy="275.0" r="6.94"/><circle cx="632.5" cy="275.0" r="6.94"/><circle cx="632.6" cy="275.0" r="6.94"/><circle cx="632.7" cy="270.0" r="6.94"/><circle cx="632.8" cy="270.0" r="6.94"/><circle cx="633.0" cy="270.0" r="6.94"/><circle cx="633.1" cy="270.0" r="6.94"/><circle cx="633.2" cy="270.0" r="6.94"/><circle cx="633.3" cy="270.0" r="6.94"/><circle cx="633.4" cy="270.0" r="6.94"/><circle cx="633.5" cy="270.0" r="6.94"/><circle cx="633.6" cy="270.0" r="6.94"/><circle cx="633.7" cy="270.0" r="6.94"/><circle cx="633.9" cy="270.0" r="6.94"/><circle cx="634.0" cy="270.0" r="6.94"/><circle cx="634.1" cy="270.0" r="6.94"/><circle cx="634.2" cy="270.0" r="6.94"/><circle cx="634.3" cy="270.0" r="6.94"/><circle cx="634.4" cy="270.0" r="6.94"/><circle cx="634.5" cy="270.0" r="6.94"/><circle cx="634.6" cy="270.0" r="6.94"/><circle cx="634.8" cy="270.0" r="6.94"/><circle cx="634.9" cy="270.0" r="6.94"/><circle cx="635.0" cy="270.0" r="6.94"/><circle cx="635.1" cy="270.0" r="6.94"/><circle cx="635.2" cy="270.0" r="6.94"/><circle cx="635.3" cy="270.0" r="6.94"/><circle cx="635.4" cy="270.0" r="6.94"/><circle cx="635.6" cy="270.0" r="6.94"/><circle cx="635.7" cy="270.0" r="6.94"/><circle cx="635.8" cy="270.0" r="6.94"/><circle cx="635.9" cy="270.0" r="6.94"/><circle cx="636.0" cy="270.0" r="6.94"/><circle cx="636.1" cy="270.0" r="6.94"/><circle cx="636.2" cy="270.0" r="6.94"/><circle cx="636.3" cy="270.0" r="6.94"/><circle cx="636.5" cy="270.0" r="6.94"/><circle cx="636.6" cy="270.0" r="6.94"/><circle cx="636.7" cy="270.0" r="6.94"/><circle cx="636.8" cy="270.0" r="6.94"/><circle cx="636.9" cy="270.0" r="6.94"/><circle cx="637.0" cy="270.0" r="6.94"/><circle cx="637.1" cy="270.0" r="6.94"/><circle cx="637.2" cy="270.0" r="6.94"/><circle cx="637.4" cy="270.0" r="6.94"/><circle cx="637.5" cy="270.0" r="6.94"/><circle cx="637.6" cy="270.0" r="6.94"/><circle cx="637.7" cy="270.0" r="6.94"/><circle cx="637.8" cy="270.0" r="6.94"/><circle cx="637.9" cy="270.0" r="6.94"/><circle cx="638.0" cy="270.0" r="6.94"/><circle cx="638.1" cy="270.0" r="6.94"/><circle cx="638.3" cy="265.0" r="6.94"/><circle cx="638.4" cy="265.0" r="6.94"/><circle cx="638.5" cy="265.0" r="6.94"/><circle cx="638.6" cy="265.0" r="6.94"/><circle cx="638.7" cy="265.0" r="6.94"/><circle cx="638.8" cy="265.0" r="6.94"/><circle cx="638.9" cy="265.0" r="6.94"/><circle cx="639.1" cy="265.0" r="6.94"/><circle cx="639.2" cy="265.0" r="6.94"/><circle cx="639.3" cy="265.0" r="6.94"/><circle cx="639.4" cy="265.0" r="6.94"/><circle cx="639.5" cy="265.0" r="6.94"/><circle cx="639.6" cy="265.0" r="6.94"/><circle cx="639.7" cy="265.0" r="6.94"/><circle cx="639.8" cy="265.0" r="6.94"/><circle cx="640.0" cy="265.0" r="6.94"/><circle cx="640.1" cy="265.0" r="6.94"/><circle cx="640.2" cy="265.0" r="6.94"/><circle cx="640.3" cy="265.0" r="6.94"/><circle cx="640.4" cy="265.0" r="6.94"/><circle cx="640.5" cy="265.0" r="6.94"/><circle cx="640.6" cy="265.0" r="6.94"/><circle cx="640.8" cy="265.0" r="6.94"/><circle cx="640.9" cy="265.0" r="6.94"/><circle cx="641.0" cy="265.0" r="6.94"/><circle cx="641.1" cy="265.0" r="6.94"/><circle cx="641.2" cy="265.0" r="6.94"/><circle cx="641.3" cy="265.0" r="6.94"/><circle cx="641.4" cy="265.0" r="6.94"/><circle cx="641.6" cy="265.0" r="6.94"/><circle cx="641.7" cy="265.0" r="6.94"/><circle cx="641.8" cy="265.0" r="6.94"/><circle cx="641.9" cy="265.0" r="6.94"/><circle cx="642.0" cy="265.0" r="6.94"/><circle cx="642.1" cy="265.0" r="6.94"/><circle cx="642.2" cy="265.0" r="6.94"/><circle cx="642.3" cy="265.0" r="6.94"/><circle cx="642.5" cy="265.0" r="6.94"/><circle cx="642.6" cy="265.0" r="6.94"/><circle cx="642.7" cy="265.0" r="6.94"/><circle cx="642.8" cy="265.0" r="6.94"/><circle cx="642.9" cy="265.0" r="6.94"/><circle cx="643.0" cy="265.0" r="6.94"/><circle cx="643.1" cy="265.0" r="6.94"/><circle cx="643.3" cy="265.0" r="6.94"/><circle cx="643.4" cy="265.0" r="6.94"/><circle cx="643.5" cy="265.0" r="6.94"/><circle cx="643.6" cy="265.0" r="6.94"/><circle cx="643.7" cy="260.0" r="6.94"/><circle cx="643.8" cy="260.0" r="6.94"/><circle cx="643.9" cy="260.0" r="6.94"/><circle cx="644.1" cy="260.0" r="6.94"/><circle cx="644.2" cy="260.0" r="6.94"/><circle cx="644.3" cy="260.0" r="6.94"/><circle cx="644.4" cy="260.0" r="6.94"/><circle cx="644.5" cy="260.0" r="6.94"/><circle cx="644.6" cy="260.0" r="6.94"/><circle cx="644.7" cy="260.0" r="6.94"/><circle cx="644.9" cy="260.0" r="6.94"/><circle cx="645.0" cy="260.0" r="6.94"/><circle cx="645.1" cy="260.0" r="6.94"/><circle cx="645.2" cy="260.0" r="6.94"/><circle cx="645.3" cy="260.0" r="6.94"/><circle cx="645.4" cy="260.0" r="6.94"/><circle cx="645.5" cy="260.0" r="6.94"/><circle cx="645.6" cy="260.0" r="6.94"/><circle cx="645.8" cy="260.0" r="6.94"/><circle cx="645.9" cy="260.0" r="6.94"/><circle cx="646.0" cy="260.0" r="6.94"/><circle cx="646.1" cy="260.0" r="6.94"/><circle cx="646.2" cy="260.0" r="6.94"/><circle cx="646.3" cy="260.0" r="6.94"/><circle cx="646.4" cy="260.0" r="6.94"/><circle cx="646.6" cy="260.0" r="6.94"/><circle cx="646.7" cy="260.0" r="6.94"/><circle cx="646.8" cy="260.0" r="6.94"/><circle cx="646.9" cy="260.0" r="6.94"/><circle cx="647.0" cy="260.0" r="6.94"/><circle cx="647.1" cy="260.0" r="6.94"/><circle cx="647.2" cy="260.0" r="6.94"/><circle cx="647.4" cy="260.0" r="6.94"/><circle cx="647.5" cy="260.0" r="6.94"/><circle cx="647.6" cy="260.0" r="6.94"/><circle cx="647.7" cy="260.0" r="6.94"/><circle cx="647.8" cy="260.0" r="6.94"/><circle cx="647.9" cy="260.0" r="6.94"/><circle cx="648.0" cy="260.0" r="6.94"/><circle cx="648.2" cy="260.0" r="6.94"/><circle cx="648.3" cy="260.0" r="6.94"/><circle cx="648.4" cy="260.0" r="6.94"/><circle cx="648.5" cy="260.0" r="6.94"/><circle cx="648.6" cy="260.0" r="6.94"/><circle cx="648.7" cy="260.0" r="6.94"/><circle cx="648.8" cy="260.0" r="6.94"/><circle cx="649.0" cy="260.0" r="6.94"/><circle cx="649.1" cy="255.0" r="6.94"/><circle cx="649.2" cy="255.0" r="6.94"/><circle cx="649.3" cy="255.0" r="6.94"/><circle cx="649.4" cy="255.0" r="6.94"/><circle cx="649.5" cy="255.0" r="6.94"/><circle cx="649.6" cy="255.0" r="6.94"/><circle cx="649.8" cy="255.0" r="6.94"/><circle cx="649.9" cy="255.0" r="6.94"/><circle cx="650.0" cy="255.0" r="6.94"/><circle cx="650.1" cy="255.0" r="6.94"/><circle cx="650.2" cy="255.0" r="6.94"/><circle cx="650.3" cy="255.0" r="6.94"/><circle cx="650.4" cy="255.0" r="6.94"/><circle cx="650.6" cy="255.0" r="6.94"/><circle cx="650.7" cy="255.0" r="6.94"/><circle cx="650.8" cy="255.0" r="6.94"/><circle cx="650.9" cy="255.0" r="6.94"/><circle cx="651.0" cy="255.0" r="6.94"/><circle cx="651.1" cy="255.0" r="6.94"/><circle cx="651.3" cy="255.0" r="6.94"/><circle cx="651.4" cy="255.0" r="6.94"/><circle cx="651.5" cy="255.0" r="6.94"/><circle cx="651.6" cy="255.0" r="6.94"/><circle cx="651.7" cy="255.0" r="6.94"/><circle cx="651.8" cy="255.0" r="6.94"/><circle cx="651.9" cy="255.0" r="6.94"/><circle cx="652.1" cy="255.0" r="6.94"/><circle cx="652.2" cy="255.0" r="6.94"/><circle cx="652.3" cy="255.0" r="6.94"/><circle cx="652.4" cy="255.0" r="6.94"/><circle cx="652.5" cy="255.0" r="6.94"/><circle cx="652.6" cy="255.0" r="6.94"/><circle cx="652.7" cy="255.0" r="6.94"/><circle cx="652.9" cy="255.0" r="6.94"/><circle cx="653.0" cy="255.0" r="6.94"/><circle cx="653.1" cy="255.0" r="6.94"/><circle cx="653.2" cy="255.0" r="6.94"/><circle cx="653.3" cy="255.0" r="6.94"/><circle cx="653.4" cy="255.0" r="6.94"/><circle cx="653.5" cy="255.0" r="6.94"/><circle cx="653.7" cy="255.0" r="6.94"/><circle cx="653.8" cy="255.0" r="6.94"/><circle cx="653.9" cy="255.0" r="6.94"/><circle cx="654.0" cy="255.0" r="6.94"/><circle cx="654.1" cy="255.0" r="6.94"/><circle cx="654.2" cy="255.0" r="6.94"/><circle cx="654.4" cy="250.1" r="6.94"/><circle cx="654.5" cy="250.1" r="6.94"/><circle cx="654.6" cy="250.1" r="6.94"/><circle cx="654.7" cy="250.1" r="6.94"/><circle cx="654.8" cy="250.1" r="6.94"/><circle cx="654.9" cy="250.1" r="6.94"/><circle cx="655.0" cy="250.1" r="6.94"/><circle cx="655.2" cy="250.1" r="6.94"/><circle cx="655.3" cy="250.1" r="6.94"/><circle cx="655.4" cy="250.1" r="6.94"/><circle cx="655.5" cy="250.1" r="6.94"/><circle cx="655.6" cy="250.1" r="6.94"/><circle cx="655.7" cy="250.1" r="6.94"/><circle cx="655.8" cy="250.1" r="6.94"/><circle cx="656.0" cy="250.1" r="6.94"/><circle cx="656.1" cy="250.1" r="6.94"/><circle cx="656.2" cy="250.1" r="6.94"/><circle cx="656.3" cy="250.1" r="6.94"/><circle cx="656.4" cy="250.1" r="6.94"/><circle cx="656.5" cy="250.1" r="6.94"/><circle cx="656.6" cy="250.1" r="6.94"/><circle cx="656.7" cy="250.1" r="6.94"/><circle cx="656.9" cy="250.1" r="6.94"/><circle cx="657.0" cy="250.1" r="6.94"/><circle cx="657.1" cy="250.1" r="6.94"/><circle cx="657.2" cy="250.1" r="6.94"/><circle cx="657.3" cy="250.1" r="6.94"/><circle cx="657.4" cy="250.1" r="6.94"/><circle cx="657.6" cy="250.1" r="6.94"/><circle cx="657.7" cy="250.1" r="6.94"/><circle cx="657.8" cy="250.1" r="6.94"/><circle cx="657.9" cy="250.1" r="6.94"/><circle cx="658.0" cy="250.1" r="6.94"/><circle cx="658.1" cy="250.1" r="6.94"/><circle cx="658.3" cy="250.1" r="6.94"/><circle cx="658.4" cy="250.1" r="6.94"/><circle cx="658.5" cy="250.1" r="6.94"/><circle cx="658.6" cy="250.1" r="6.94"/><circle cx="658.7" cy="245.1" r="6.94"/><circle cx="658.9" cy="245.1" r="6.94"/><circle cx="659.0" cy="245.1" r="6.94"/><circle cx="659.1" cy="245.1" r="6.94"/><circle cx="659.2" cy="245.1" r="6.94"/><circle cx="659.3" cy="245.1" r="6.94"/><circle cx="659.5" cy="245.1" r="6.94"/><circle cx="659.6" cy="245.1" r="6.94"/><circle cx="659.7" cy="245.1" r="6.94"/><circle cx="659.8" cy="245.1" r="6.94"/><circle cx="660.0" cy="245.1" r="6.94"/><circle cx="660.1" cy="245.1" r="6.94"/><circle cx="660.2" cy="245.1" r="6.94"/><circle cx="660.3" cy="245.1" r="6.94"/><circle cx="660.4" cy="245.1" r="6.94"/><circle cx="660.6" cy="245.1" r="6.94"/><circle cx="660.7" cy="245.1" r="6.94"/><circle cx="660.8" cy="245.1" r="6.94"/><circle cx="660.9" cy="245.1" r="6.94"/><circle cx="661.1" cy="245.1" r="6.94"/><circle cx="661.2" cy="245.1" r="6.94"/><circle cx="661.3" cy="245.1" r="6.94"/><circle cx="661.4" cy="245.1" r="6.94"/><circle cx="661.6" cy="245.1" r="6.94"/><circle cx="661.7" cy="245.1" r="6.94"/><circle cx="661.8" cy="245.1" r="6.94"/><circle cx="662.0" cy="245.1" r="6.94"/><circle cx="662.1" cy="245.1" r="6.94"/><circle cx="662.2" cy="245.1" r="6.94"/><circle cx="662.3" cy="245.1" r="6.94"/><circle cx="662.5" cy="245.1" r="6.94"/><circle cx="662.6" cy="245.1" r="6.94"/><circle cx="662.7" cy="245.1" r="6.94"/><circle cx="662.9" cy="245.1" r="6.94"/><circle cx="663.0" cy="245.1" r="6.94"/><circle cx="663.1" cy="240.1" r="6.94"/><circle cx="663.3" cy="240.1" r="6.94"/><circle cx="663.4" cy="240.1" r="6.94"/><circle cx="663.5" cy="240.1" r="6.94"/><circle cx="663.6" cy="240.1" r="6.94"/><circle cx="663.8" cy="240.1" r="6.94"/><circle cx="663.9" cy="240.1" r="6.94"/><circle cx="664.0" cy="240.1" r="6.94"/><circle cx="664.2" cy="240.1" r="6.94"/><circle cx="664.3" cy="240.1" r="6.94"/><circle cx="664.4" cy="240.1" r="6.94"/><circle cx="664.6" cy="240.1" r="6.94"/><circle cx="664.7" cy="240.1" r="6.94"/><circle cx="664.8" cy="240.1" r="6.94"/><circle cx="665.0" cy="240.1" r="6.94"/><circle cx="665.1" cy="240.1" r="6.94"/><circle cx="665.2" cy="240.1" r="6.94"/><circle cx="665.4" cy="240.1" r="6.94"/><circle cx="665.5" cy="240.1" r="6.94"/><circle cx="665.7" cy="240.1" r="6.94"/><circle cx="665.8" cy="240.1" r="6.94"/><circle cx="665.9" cy="240.1" r="6.94"/><circle cx="666.1" cy="240.1" r="6.94"/><circle cx="666.2" cy="240.1" r="6.94"/><circle cx="666.4" cy="240.1" r="6.94"/><circle cx="666.5" cy="240.1" r="6.94"/><circle cx="666.6" cy="240.1" r="6.94"/><circle cx="666.8" cy="240.1" r="6.94"/><circle cx="666.9" cy="240.1" r="6.94"/><circle cx="667.1" cy="240.1" r="6.94"/><circle cx="667.2" cy="240.1" r="6.94"/><circle cx="667.3" cy="240.1" r="6.94"/><circle cx="667.5" cy="240.1" r="6.94"/><circle cx="667.6" cy="240.1" r="6.94"/><circle cx="667.8" cy="235.1" r="6.94"/><circle cx="668.0" cy="235.1" r="6.94"/><circle cx="668.2" cy="235.1" r="6.94"/><circle cx="668.4" cy="235.1" r="6.94"/><circle cx="668.6" cy="235.1" r="6.94"/><circle cx="668.8" cy="235.1" r="6.94"/><circle cx="669.0" cy="235.1" r="6.94"/><circle cx="669.2" cy="235.1" r="6.94"/><circle cx="669.4" cy="235.1" r="6.94"/><circle cx="669.6" cy="235.1" r="6.94"/><circle cx="669.8" cy="235.1" r="6.94"/><circle cx="670.1" cy="235.1" r="6.94"/><circle cx="670.3" cy="235.1" r="6.94"/><circle cx="670.5" cy="235.1" r="6.94"/><circle cx="670.7" cy="235.1" r="6.94"/><circle cx="670.9" cy="235.1" r="6.94"/><circle cx="671.1" cy="235.1" r="6.94"/><circle cx="671.4" cy="235.1" r="6.94"/><circle cx="671.6" cy="235.1" r="6.94"/><circle cx="671.8" cy="235.1" r="6.94"/><circle cx="672.0" cy="235.1" r="6.94"/><circle cx="672.3" cy="235.1" r="6.94"/><circle cx="672.5" cy="235.1" r="6.94"/><circle cx="672.7" cy="235.1" r="6.94"/><circle cx="673.0" cy="235.1" r="6.94"/><circle cx="673.2" cy="235.1" r="6.94"/><circle cx="673.4" cy="230.2" r="6.94"/><circle cx="673.6" cy="230.2" r="6.94"/><circle cx="673.7" cy="230.2" r="6.94"/><circle cx="673.9" cy="230.2" r="6.94"/><circle cx="674.0" cy="230.2" r="6.94"/><circle cx="674.2" cy="230.2" r="6.94"/><circle cx="674.3" cy="230.2" r="6.94"/><circle cx="674.5" cy="230.2" r="6.94"/><circle cx="674.6" cy="230.2" r="6.94"/><circle cx="674.8" cy="230.2" r="6.94"/><circle cx="675.0" cy="230.2" r="6.94"/><circle cx="675.1" cy="230.2" r="6.94"/><circle cx="675.3" cy="230.2" r="6.94"/><circle cx="675.5" cy="230.2" r="6.94"/><circle cx="675.6" cy="230.2" r="6.94"/><circle cx="675.8" cy="230.2" r="6.94"/><circle cx="676.0" cy="230.2" r="6.94"/><circle cx="676.1" cy="230.2" r="6.94"/><circle cx="676.4" cy="225.2" r="6.94"/><circle cx="676.7" cy="225.2" r="6.94"/><circle cx="677.0" cy="225.2" r="6.94"/><circle cx="677.3" cy="225.2" r="6.94"/><circle cx="677.6" cy="225.2" r="6.94"/><circle cx="677.9" cy="225.2" r="6.94"/><circle cx="678.3" cy="225.2" r="6.94"/><circle cx="678.7" cy="225.2" r="6.94"/><circle cx="679.0" cy="225.2" r="6.94"/><circle cx="679.4" cy="225.2" r="6.94"/><circle cx="679.8" cy="225.2" r="6.94"/><circle cx="680.3" cy="225.2" r="6.94"/><circle cx="680.7" cy="225.2" r="6.94"/><circle cx="681.2" cy="220.2" r="6.94"/><circle cx="681.7" cy="220.2" r="6.94"/><circle cx="682.1" cy="220.2" r="6.94"/><circle cx="682.6" cy="220.2" r="6.94"/><circle cx="683.2" cy="220.2" r="6.94"/><circle cx="683.7" cy="220.2" r="6.94"/><circle cx="684.3" cy="220.2" r="6.94"/><circle cx="684.9" cy="220.2" r="6.94"/><circle cx="685.6" cy="220.2" r="6.94"/><circle cx="686.1" cy="215.2" r="6.94"/><circle cx="686.3" cy="215.2" r="6.94"/><circle cx="686.5" cy="215.2" r="6.94"/><circle cx="686.7" cy="215.2" r="6.94"/><circle cx="686.9" cy="215.2" r="6.94"/><circle cx="687.2" cy="215.2" r="6.94"/><circle cx="687.4" cy="215.2" r="6.94"/><circle cx="687.6" cy="210.3" r="6.94"/><circle cx="687.7" cy="210.3" r="6.94"/><circle cx="687.8" cy="210.3" r="6.94"/><circle cx="687.9" cy="210.3" r="6.94"/><circle cx="688.0" cy="210.3" r="6.94"/><circle cx="688.3" cy="205.3" r="6.94"/><circle cx="688.6" cy="205.3" r="6.94"/><circle cx="688.9" cy="205.3" r="6.94"/><circle cx="689.2" cy="205.3" r="6.94"/><circle cx="689.9" cy="200.3" r="6.94"/><circle cx="690.9" cy="200.3" r="6.94"/><circle cx="692.0" cy="200.3" r="6.94"/><circle cx="727.5" cy="140.6" r="6.94"/><circle cx="716.5" cy="150.6" r="6.94"/><circle cx="708.5" cy="150.6" r="6.94"/><circle cx="706.5" cy="160.5" r="6.94"/><circle cx="706.7" cy="165.5" r="6.94"/><circle cx="704.0" cy="170.5" r="6.94"/><circle cx="704.1" cy="170.5" r="6.94"/><circle cx="704.3" cy="170.5" r="6.94"/><circle cx="698.5" cy="175.5" r="6.94"/><circle cx="703.5" cy="175.5" r="6.94"/><circle cx="698.5" cy="190.4" r="6.94"/><circle cx="698.6" cy="190.4" r="6.94"/><circle cx="698.8" cy="190.4" r="6.94"/><circle cx="694.5" cy="195.4" r="6.94"/><circle cx="694.6" cy="195.4" r="6.94"/><circle cx="694.8" cy="195.4" r="6.94"/>
</g>
<line x1="98.1" y1="643.1" x2="727.2" y2="189.9" stroke="#f00" stroke-opacity="0.33" stroke-width="4.17" stroke-linecap="square"/>
<line x1="60" y1="886.24" x2="850" y2="101.5" stroke="#00f" stroke-opacity="0.33" stroke-width="4.17" stroke-linecap="square"/>
</g>
<rect x="67.5" y="110.5" width="775" height="770" fill="none" stroke="#000" stroke-width="1.11"/>
<g stroke="#000" stroke-width="1.11">
<line x1="145.5" y1="880.5" x2="145.5" y2="885.4"/>
<line x1="245.5" y1="880.5" x2="245.5" y2="885.4"/>
<line x1="345.5" y1="880.5" x2="345.5" y2="885.4"/>
<line x1="446.5" y1="880.5" x2="446.5" y2="885.4"/>
<line x1="546.5" y1="880.5" x2="546.5" y2="885.4"/>
<line x1="646.5" y1="880.5" x2="646.5" y2="885.4"/>
<line x1="746.5" y1="880.5" x2="746.5" y2="885.4"/>
<line x1="62.6" y1="205.5" x2="67.5" y2="205.5"/>
<line x1="62.6" y1="304.5" x2="67.5" y2="304.5"/>
<line x1="62.6" y1="404.5" x2="67.5" y2="404.5"/>
<line x1="62.6" y1="503.5" x2="67.5" y2="503.5"/>
<line x1="62.6" y1="603.5" x2="67.5" y2="603.5"/>
<line x1="62.6" y1="702.5" x2="67.5" y2="702.5"/>
<line x1="62.6" y1="802.5" x2="67.5" y2="802.5"/>
</g>
<text x="132.26 140.57 149.4" y="901.2" font-size="13.889px">260</text>
<text x="232.26 241.07 249.4" y="901.2" font-size="13.889px">280</text>
<text x="332.26 340.07 348.4" y="901.2" font-size="13.889px">300</text>
<text x="432.26 440.07 448.4" y="901.2" font-size="13.889px">320</text>
<text x="533.26 540.87 549.4" y="901.2" font-size="13.889px">340</text>
<text x="633.26 641.07 649.4" y="901.2" font-size="13.889px">360</text>
<text x="733.26 741.07 749.4" y="901.2" font-size="13.889px">380</text>
<text x="31.02 39.33 47.66" y="210.8" font-size="13.889px">380</text>
<text x="31.02 39.33 47.66" y="309.8" font-size="13.889px">360</text>
<text x="31.02 39.33 47.16" y="409.8" font-size="13.889px">340</text>
<text x="31.02 38.83 47.16" y="508.8" font-size="13.889px">320</text>
<text x="31.02 39.33 47.16" y="608.8" font-size="13.889px">300</text>
<text x="31.52 40.33 48.66" y="707.8" font-size="13.889px">280</text>
<text x="31.52 40.33 48.66" y="807.8" font-size="13.889px">260</text>
<text x="412.21 421.78 425.9 442.64 452.68 456.82 468.03 474.56 484.31" y="921.1" font-size="16.667px">Simulated</text>
<g transform="translate(22.3,496.5) rotate(-90)"><text x="-40.07 -26.96 -16.4 -7.71 2.52 9.38 19.24 29.48" y="0" font-size="16.667px">Observed</text></g>
<text x="193.35 208.38 215.81 230.91 236.88 249.22 254.63 266.52 274.23 280.52 292.43 300.15 306.52 311.73 321.45 327.74 339.94 345.73 351.52 363.18 375.55 387.91 400.29 406.46 413.3 425.19 433.59 440.12 452.46 464.35 480.24 493.32 509.21 521.12 528.77 541.12 550.83 556.23 568.12 580.44 592.77 608.68 620.58 632.08 644.05 653.77 659.9 666.01 678.33" y="24.7" font-size="19.444px">Q-Q plot at is.vi.1919 for downward_longwave_flux</text>
<text x="283.79 290.62 299 310.89 329.81 336 343.98 355.9 367.4 379.76 386.78 399.15 411.51 418.53 430.9 443.26 449.44 461.78 474.09 482.09 487.5 499.81 512.15 518.33 528.45 540.78 559.7 578.64 590.61" y="47.7" font-size="19.444px">from rav2-13-14 during summer</text>
</svg></body></html>
